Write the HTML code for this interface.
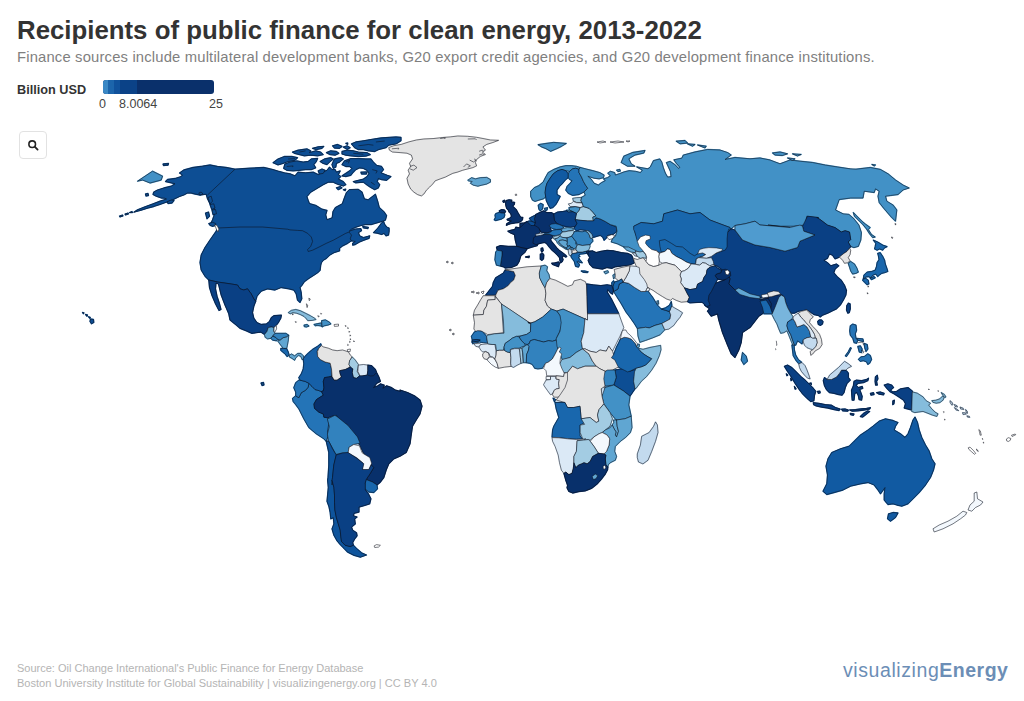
<!DOCTYPE html>
<html lang="en"><head><meta charset="utf-8"><title>Recipients of public finance for clean energy, 2013-2022</title>
<style>
html,body{margin:0;padding:0;background:#fff;}
body{width:1024px;height:701px;position:relative;overflow:hidden;font-family:"Liberation Sans",sans-serif;}
.abs{position:absolute;white-space:nowrap;line-height:1;}
#title{left:17px;top:18px;font-size:25.8px;font-weight:700;color:#333;transform-origin:0 0;}
#sub{left:17px;top:49.7px;font-size:14.8px;letter-spacing:0.17px;color:#7f7f7f;transform-origin:0 0;}
#lt{left:17px;top:83.5px;font-size:12.7px;font-weight:700;color:#333;}
#bar{position:absolute;left:103px;top:80px;width:111px;height:14px;border-radius:3px;overflow:hidden;background:#0a306b;}
#bar i{position:absolute;top:0;height:14px;}
.lab{font-size:12.5px;color:#444;top:98px;}
#search{position:absolute;left:19px;top:131px;width:26px;height:26px;border:1px solid #e2e2e2;border-radius:4px;background:#fff;}
.foot{left:17px;font-size:11px;color:#b4b4b4;transform-origin:0 0;}
#logo{left:843px;top:661.3px;font-size:19.5px;color:#6c8eb6;}
#logo span{letter-spacing:0.58px;}
#logo b{letter-spacing:0.5px;}
#logo b{font-weight:700;}
#map{position:absolute;left:0;top:0;}
</style></head><body>
<div id="title" class="abs">Recipients of public finance for clean energy, 2013-2022</div>
<div id="sub" class="abs">Finance sources include multilateral development banks, G20 export credit agencies, and G20 development finance institutions.</div>
<div id="lt" class="abs">Billion USD</div>
<div id="bar"><i style="left:0;width:5px;background:#3a88c5"></i><i style="left:5px;width:6px;background:#1c65ab"></i><i style="left:11px;width:6px;background:#10529c"></i><i style="left:17px;width:17px;background:#0b4287"></i></div>
<div class="abs lab" style="left:99px">0</div><div class="abs lab" style="left:119px">8.0064</div><div class="abs lab" style="left:209px">25</div>
<div id="search"><svg width="26" height="26" viewBox="0 0 26 26"><circle cx="12.2" cy="12.2" r="3.3" fill="none" stroke="#222" stroke-width="1.6"/><path d="M14.7 14.7L17.6 17.6" stroke="#222" stroke-width="1.8" stroke-linecap="round"/></svg></div>
<svg id="map" width="1024" height="701" viewBox="0 0 1024 701">
<g stroke-width="1.3" stroke-linejoin="round">
<path fill="#0d4e94" stroke="#0d4e94" d="M179.5,173L183.8,170L193,167.5L202.5,166.2L210,165L217.5,166.5L226.2,167.5L235,169.2L250,168.2L263.8,167.5L268,168.4L273,169.6L279.3,171.5L284.3,172.8L290.6,174L295,175.9L298.1,172.2L305.6,172.8L313.2,172.2L318.2,174.7L322,172.8L327,170.3L329.5,167.1L332,169.6L335.1,169.6L336.4,172.2L340.2,170.9L338.3,174.7L340.8,176.5L338.3,179.1L343.3,181.6L345.8,184.7L343.3,186L338.9,184.7L335.8,183.5L333.3,182.2L328.2,182.2L323.2,184.7L316.9,188.5L310.7,192.2L306.9,196.6L308.2,200.4L309.4,203.5L315.7,205.4L322,209.2L327,210.4L325.7,214.8L327,219.8L332.2,217.8L333,211.6L335.4,207.6L342.4,203.7L344,199L346.4,192.7L349.5,189.6L358.1,189.3L362,192L364.4,199L368.3,199.8L375.4,194.3L377.7,201.4L379.3,207.6L384.1,211.9L386.6,215.7L385.4,220.1L382.2,221.3L377.8,222.6L371.6,224.5L365.3,224.5L360.3,225.7L355.3,227.4L351.5,229.1L349,231.4L355.3,229.1L360.9,228.6L361.5,230.7L358.4,232.6L359.6,235.8L363.4,237.6L367.8,236.4L369.7,235.8L369.1,238.3L364,240.2L359.6,242L355.3,244.5L352.7,245.2L352.7,243.3L355.3,241.4L351.5,240.8L347.7,243.3L342.7,245.8L339.6,248.3L339.6,250.8L333.9,252.7L329.5,255.2L326.4,258.4L323.3,260.2L321.4,262.7L320.7,265.3L320.1,270.3L317.6,272.8L313.8,275.3L308.8,278.4L304.4,281.6L301.9,285.3L300,287.5L301.2,292.5L301.8,298.8L300,302.5L297.5,300L296.2,293.8L293.8,290L288.8,288.8L281.2,287.5L275,290L267.5,288.8L261.2,291.2L257,296.2L255.5,301.2L253.8,298.8L251.2,293.8L247.5,288.8L243.8,290L240,288.8L237.5,285L230,283.8L217.5,282L208.8,280L205,276.2L201.2,270L200,262.5L201.2,255L201.2,255L205,247.5L210,240L216.2,231.2L217.5,227.5L215,225L211.2,222.5L212.5,220L213.8,216.2L215,211.2L213.8,207.5L210,203.8L207.5,198.8L206.2,194.2L200,195L195,194L191.2,193L187.5,193L183.8,195L179.5,196.5L172.5,199.8L166.2,202.2L160,204.5L153.8,206.5L147.5,208.2L141.2,210.2L133.8,212.2L137.5,209.8L145,206.8L152.5,204L160,201.2L166.5,199L164.5,198.2L161.2,198L156.2,196.2L153,194.5L153.8,192L157.5,190L163.8,188L171.2,186.2L175,183.8L170,182.5L165.5,181.5L167.5,179.5L175,178.5L181.2,176.5L182.5,175Z"/>
<path fill="#0d4e94" stroke="#0d4e94" d="M273,162.7L278,159L284.3,156.5L291.8,156.5L297.5,157.7L295,160.2L288.1,161.5L283.1,163.4L278,164.9Z"/>
<path fill="#0d4e94" stroke="#0d4e94" d="M283.7,168.4L284.9,164L290,162.1L296.9,160.9L303.1,162.1L308.2,161.5L311.3,159L317.6,158.4L316.3,161.5L313.8,164.6L315.7,167.8L311.3,169.6L305.6,169.6L299.4,170.3L293.1,170.9L286.8,170.3Z"/>
<path fill="#0d4e94" stroke="#0d4e94" d="M292.5,152.1L298.1,150.2L306.9,148.9L310.7,150.8L309.4,152.7L315.7,150.8L320.7,152.1L323.2,154.6L317.6,155.8L310.7,155.2L304.4,155.8L299.4,154.6L294.4,153.3Z"/>
<path fill="#0d4e94" stroke="#0d4e94" d="M312.5,148.3L318.2,146.8L323.8,146.4L322,148.3L316.3,149.6Z"/>
<path fill="#0d4e94" stroke="#0d4e94" d="M326.4,152.7L330.7,150.8L336.4,151.5L338.9,153.3L335.1,155.2L330.1,154.6Z"/>
<path fill="#0d4e94" stroke="#0d4e94" d="M332.6,145.8L337.6,144.5L342,146.4L339.5,148.3L334.5,148.1Z"/>
<path fill="#0d4e94" stroke="#0d4e94" d="M343.3,147.1L347.1,145.8L350.2,147.7L347.1,149.3Z"/>
<path fill="#0d4e94" stroke="#0d4e94" d="M345.8,143.3L347.7,143L347.7,144.3Z"/>
<path fill="#0d4e94" stroke="#0d4e94" d="M342,151.5L347.1,150.2L353.3,150.8L358.4,152.1L367.1,152.7L370.3,154.6L365.9,156.1L358.4,156.5L350.8,155.8L345.8,155.2L342,154Z"/>
<path fill="#0d4e94" stroke="#0d4e94" d="M351.5,143.9L355.8,142L363.4,140.8L372.2,139.3L380.9,138L389.7,137.3L396,137L401,137.3L401,140.8L396,143.9L388.5,145.2L386,147.7L378.4,149.6L374.7,151.5L368.4,150.8L363.4,149.6L358.4,149.6L354.6,147.7Z"/>
<path fill="#0d4e94" stroke="#0d4e94" d="M320.1,161.5L324.5,159L330.7,157.7L333.3,159L329.5,162.1L327,164.6L323.2,163.4Z"/>
<path fill="#0d4e94" stroke="#0d4e94" d="M334.5,159L340.8,157.7L343.3,159L339.5,162.1L336.4,163.4L335.8,167.1L333.3,168.4L332,164.6L333.3,161.5Z"/>
<path fill="#0d4e94" stroke="#0d4e94" d="M318.2,170.9L322,169L325.1,170.3L323.2,173.4L319.5,174Z"/>
<path fill="#0d4e94" stroke="#0d4e94" d="M342,164.6L344.5,160.9L350.8,158.6L358.4,158.6L365.9,159L370.9,159L373.4,162.1L376.5,165.3L381.6,166.5L383.5,169.6L380.9,172.8L387.2,175.3L391,176.5L386.6,180.3L381.6,179.7L378.4,178.4L377.2,181.6L379.7,184.7L378.4,187.8L374.7,189.7L370.3,187.2L365.9,184.1L363.4,182.2L355.8,182.8L353.3,181.6L358.4,180.3L363.4,179.1L367.1,176.5L369,173.4L367.1,170.3L363.4,168.4L359.6,167.8L355.8,169.6L353.3,172.2L350.8,175.3L345.8,176.5L342,175.9L345.8,173.4L349.6,170.9L352.1,168.4L349.6,166.5L345.8,166.5Z"/>
<path fill="#0d4e94" stroke="#0d4e94" d="M360.9,172.2L367.1,171.9L366.5,174L361.5,174Z"/>
<path fill="#0d4e94" stroke="#0d4e94" d="M336.4,187.8L340.2,186.6L342,187.8L338.3,189.7Z"/>
<path fill="#0d4e94" stroke="#0d4e94" d="M343.3,189.7L345.8,189.1L345.2,190.7Z"/>
<path fill="#0d4e94" stroke="#0d4e94" d="M119.5,216L122.5,215L123,216L120,217Z"/>
<path fill="#0d4e94" stroke="#0d4e94" d="M125,214L128,213L128.5,214L125.5,215Z"/>
<path fill="#0d4e94" stroke="#0d4e94" d="M129.5,212.5L132,211.5L132.5,212.5Z"/>
<path fill="#0d4e94" stroke="#0d4e94" d="M90.5,319L93.5,319.5L93.8,322.5L91.5,323.8L90,321.5Z"/>
<path fill="#0d4e94" stroke="#0d4e94" d="M82.5,312.5L84,312.8L83.5,313.8Z"/>
<path fill="#0d4e94" stroke="#0d4e94" d="M85.5,314.5L87.5,315L87,316.3Z"/>
<path fill="#0d4e94" stroke="#0d4e94" d="M88.5,316.8L90.3,317.3L89.8,318.3Z"/>
<path fill="#0d4e94" stroke="#0d4e94" d="M163,164L168.5,163.5L168,165.2L163.5,165.5Z"/>
<path fill="#0d4e94" stroke="#0d4e94" d="M145.5,194L148,193.5L148.5,195.5L146,196Z"/>
<path fill="#0d4e94" stroke="#0d4e94" d="M167,202L171,200L174,200.5L172,203L168,203.5Z"/>
<path fill="#0d4e94" stroke="#0d4e94" d="M261,383L263.5,382.5L264,385L262,385.5Z"/>
<path fill="#0d4e94" stroke="#0d4e94" d="M373.5,232.6L377.8,228.2L381,223.8L383.5,221.3L384.7,224.5L386.6,227L389.1,228.2L389.1,231.4L388.5,235.1L386,235.8L384.1,233.3L381.6,234.5L377.8,233.3Z"/>
<path fill="#0d4e94" stroke="#0d4e94" d="M362.8,226.4L368.4,227.4L367.8,228.6L363.4,227.9Z"/>
<path fill="#0d4e94" stroke="#0d4e94" d="M208,197.5L211.2,196.2L212.5,201.2L210,203.8Z"/>
<path fill="#0d4e94" stroke="#0d4e94" d="M210,204.5L213.8,203.8L215,208L211.8,209.5Z"/>
<path fill="#0d4e94" stroke="#0d4e94" d="M212,210L215.5,209.5L216.5,213.8L213,214.5Z"/>
<path fill="#0d4e94" stroke="#0d4e94" d="M205.5,213L208.5,212L209.5,216.2L207,218.8Z"/>
<path fill="#0d4e94" stroke="#0d4e94" d="M198.8,193L201.2,192L203,194L200,195Z"/>
<path fill="#0d4e94" stroke="#0d4e94" d="M208.8,223.5L212.6,222.3L215.7,223.5L215.1,225.6L212.6,226.3L210.1,225.3Z"/>
<path fill="#4291c6" stroke="#4291c6" d="M137.5,181.2L152.5,171.2L162.5,176.2L161.2,180L150,183L142.5,180Z"/>
<path fill="#e4e4e4" stroke="#e4e4e4" d="M388.8,147.6L393.8,145.7L401.3,144.4L408.9,141.9L416.4,140L423.9,139L434,138.5L442.7,137.5L450.3,136.9L457.8,136L467.8,136.3L476.6,137.3L482.9,138.5L490.4,140L498.6,140.3L492.9,142.5L486.7,144.4L482.9,146.9L485.4,150.1L482.3,152L485.4,154.5L480.4,156.4L476.6,159.5L475.4,162.6L476.6,165.8L472.9,167.6L467.8,168.9L462.8,170.2L457.8,172L452.8,173.3L449,175.2L445.3,177.1L440.2,178.9L435.2,180.8L432.7,184L429.6,187.1L426.4,190.2L423.9,194L421.4,195.9L417.6,194.6L413.9,192.1L410.7,189L408.2,184L407,178.3L409.5,173.9L408.2,170.2L410.7,166.4L409.5,163.3L412.6,158.9L411.4,155.1L407,153.2L400.1,152.6L392.5,152L389.4,150.1Z"/>
<path fill="#60a6d2" stroke="#60a6d2" d="M467.8,180.2L471.6,177.7L475.4,178.9L480.4,177.7L486.7,177.4L490.4,179.6L490.4,182.1L486.7,184L481.6,185.2L477.9,186.2L473.5,185.2L470.4,183.3L472.2,181.5L468.5,180.8Z"/>
<path fill="#0a4084" stroke="#0a4084" d="M208.8,280L217.5,282L230,283.8L237.5,285L240,288.8L243.8,290L247.5,288.8L251.2,293.8L253.8,298.8L255.5,301.2L255.7,301.3L253.8,306.3L252.5,312.6L253.8,318.2L256.9,322.6L261.3,324.5L266.4,323.9L269.5,321.4L271.4,317.6L273.9,315.7L281.4,315.1L280.8,318.2L278.3,322.6L276.4,325.1L273.9,327.6L271.4,327L268.2,327.6L267,331.4L264.5,334.5L260.7,332L256.3,332.7L251.9,333.3L246.3,330.8L240,328.3L236.2,325L230,320L228.8,313.8L225,305L221.2,295L218.5,284L216,283L215.5,288.8L217,296.2L219.5,303.8L221,309.5L219,310.5L215.5,303.8L212,295.5L209.5,287.5Z"/>
<path fill="#60a6d2" stroke="#60a6d2" d="M264.5,334.5L267,331.4L268.2,327.6L271.4,327L273.9,327.6L273.6,331.4L275.1,333.3L272.9,335.8L270.7,338.3L267.6,338.9L265.1,337.1Z"/>
<path fill="#f3f8fd" stroke="#f3f8fd" d="M274.1,327.6L276.4,325.4L276.6,328.9L274.9,332L273.9,331.4Z"/>
<path fill="#3282be" stroke="#3282be" d="M270.7,338.3L272.9,336.2L275.8,337.4L277.6,339.2L276.4,340.8L272.9,340.2Z"/>
<path fill="#3282be" stroke="#3282be" d="M272.9,335.8L275.1,333.3L280.2,333.3L285.8,333.3L288.7,335.2L286.4,337.1L283.3,337.7L280.2,340.2L277.6,339.2L275.8,337.4Z"/>
<path fill="#60a6d2" stroke="#60a6d2" d="M277.6,340.8L280.2,340.2L283.3,337.7L286.4,337.1L288.7,335.4L288.3,340.2L287.4,345.2L286.7,348.4L283.3,348.4L280.8,345.2Z"/>
<path fill="#1967ad" stroke="#1967ad" d="M280.8,348.4L283.3,348.4L286.7,348.7L288.3,352.1L289.2,355.3L287.1,356.5L285.2,354L282.7,352.1L280.8,350.2Z"/>
<path fill="#60a6d2" stroke="#60a6d2" d="M289.2,355.3L291.5,354L294.6,355.9L297.7,353.4L300.9,353.4L303.4,355.9L304,359L302.1,359.6L300.9,356.5L298.4,355.3L295.8,357.8L294.6,360.3L292.1,358.4L289.6,357.1Z"/>
<path fill="#85bcdc" stroke="#85bcdc" d="M288.3,312.6L291.5,310.3L295.8,309.5L300.2,310.7L305.3,313.2L310.3,315.7L314.7,318.2L315.9,319.5L312.2,320.4L307.8,320.7L306.5,318.9L304,316.4L300.2,314.5L296.5,313.2L292.7,312.6L290.2,313.8Z"/>
<path fill="#4291c6" stroke="#4291c6" d="M304,325.1L307.1,324.5L309,326.1L306.5,327L304.3,326.6Z"/>
<path fill="#4291c6" stroke="#4291c6" d="M314,324.5L317.8,323.6L321.6,322.9L322.2,326.4L320.3,325.8L317.2,325.4L315.3,325.8Z"/>
<path fill="#4291c6" stroke="#4291c6" d="M321.6,320.7L325.3,319.9L329.1,322L331,323.9L327.8,325.1L324.1,325.8L322.2,327L321.8,323.3Z"/>
<path fill="#2474b7" stroke="#2474b7" d="M292.5,398.4L295.7,395.8L298.8,397.7L301.3,392.7L305.7,390.2L308.2,387.1L308.9,383.3L312,386.4L315.1,389.6L317.6,390.2L321.4,391.5L323.3,395.2L320.2,397.1L316.4,399.6L313.9,404L314.5,408.4L318.9,412.2L323.3,414L323.9,417.2L327.7,417.8L328.8,423.8L327.5,431.2L328,436.2L326.2,441.2L323.8,438.8L316.2,433.8L308.8,427.5L303.8,418.8L298.8,408.8L295.7,404.6L293.2,401.5Z"/>
<path fill="#2474b7" stroke="#2474b7" d="M293.8,387.7L295.7,382.7L298.8,380.2L300.1,380.2L305.1,381.4L308.9,383.3L308.2,387.1L305.7,390.2L301.3,392.7L298.8,397.7L295.7,395.8L295.7,392.1Z"/>
<path fill="#1660a8" stroke="#1660a8" d="M303.2,358.8L305.1,356.3L308.9,352.5L312.6,349.4L317.6,346.3L320.8,343.8L321.4,345.6L318.9,348.2L317,351.3L317.6,356.3L320.2,359.5L325.2,362L330.2,363.2L331.5,368.9L331.5,376.4L328.3,377L324.5,377.6L323.3,381.4L323.9,387.7L323.3,390.8L321.4,391.5L317.6,390.2L315.1,389.6L312,386.4L308.9,383.3L305.1,381.4L300.1,380.2L298.8,377.6L301.3,373.9L303.2,368.9L303.8,363.8Z"/>
<path fill="#e4e4e4" stroke="#e4e4e4" d="M317.6,351.3L318.9,348.2L321.4,345.6L323.3,346.9L328.3,348.2L332.7,350L337.1,350.7L342.7,350L348.4,351.9L350.3,355.1L352.2,356.9L349.6,360.7L349,364.5L350.3,367L345.3,369.5L339.6,370.7L340.2,373.9L341.5,377L337.1,380.2L334,380.2L332.1,376.4L331.5,368.9L330.2,363.2L325.2,362L320.2,359.5L317.6,356.3Z"/>
<path fill="#a3cce3" stroke="#a3cce3" d="M352.2,356.9L355.3,360.1L358.4,364.5L357.8,368.2L357.2,371.4L359.7,375.8L356.5,378.3L353.4,377.6L352.2,372.6L352.8,368.9L350.3,367L349,364.5L349.6,360.7Z"/>
<path fill="#dbe9f6" stroke="#dbe9f6" d="M358.4,365.1L363.5,364.5L367.8,365.1L367.8,370.7L367.2,375.1L362.8,375.8L360.3,376.4L357.8,371.4L358.1,368.2Z"/>
<path fill="#08306b" stroke="#08306b" d="M323.3,381.4L324.5,377.6L328.3,377L331.5,376.4L334,380.2L337.1,380.2L341.5,377L340.2,373.9L339.6,370.7L345.3,369.5L350.3,367L352.8,368.9L352.2,372.6L353.4,377.6L356.5,378.3L359.7,375.8L362.8,375.8L367.2,375.1L367.8,370.7L367.8,365.1L371.6,365.7L375.4,369.5L376.6,372.6L379.1,377.6L380.4,381.4L376.6,383.3L373.5,387.7L377.9,385.8L380.4,383.9L384.2,385.2L382.9,388.3L386.7,385.8L391.7,387.7L395.5,390.2L400.5,391.5L400,390L407.5,392.5L415,396.2L420,400L422,406.2L420,413.8L416.2,420L412.5,426.2L411.2,435L410,443.8L406.2,452.5L400,456.2L393.8,458.8L388.8,463.8L386.2,470L383.8,477.5L380,482.5L377,485L372.5,482L366.2,479.5L370,473.8L373.8,467.5L371.2,465L370,460L365,456.2L360,446.2L356.2,437.5L350,431.2L347.8,425.3L342.7,421.6L338.4,418.4L336.5,415.3L332.7,415.9L327.7,417.8L323.9,417.2L323.3,414L318.9,412.2L314.5,408.4L313.9,404L316.4,399.6L320.2,397.1L323.3,395.2L321.4,391.5L323.3,390.8L323.9,387.7Z"/>
<path fill="#3282be" stroke="#3282be" d="M327.4,419.1L334.9,415.3L337.8,417.2L348.1,425.6L352.8,431.3L357.5,436.9L360,443.2L353.8,444.5L349.1,447.3L348.1,452.9L342.5,452.9L335.9,454.4L332.1,447.3L328.4,440.7L327.4,434.1L329.3,426.6Z"/>
<path fill="#f3f8fd" stroke="#f3f8fd" d="M349.1,447.3L353.8,444.5L359.4,445.8L362.2,452.9L369.8,457.6L371.6,463.3L368.8,469.9L362.2,469.9L363.2,463.3L356.6,457.6L350,453.9L348.1,452.9Z"/>
<path fill="#1967ad" stroke="#1967ad" d="M366.2,479.5L372.5,482L377,485L377.5,488.8L373.8,492.5L368.8,492L365,488.8L365,483.8Z"/>
<path fill="#0e549c" stroke="#0e549c" d="M326.2,441.2L328.8,441.2L332.5,448.8L336.2,455L333.8,465L332.5,477.5L332,485L332,480L333.9,487.5L334.5,495.1L334.5,502.6L334.9,510.1L336.4,517.6L338.3,523.9L340.2,530.2L340.8,536.5L341.5,541.5L345.2,545.3L350.2,546.5L353.4,545.3L356.5,548.4L361.5,552.8L366.5,555L360.3,557.2L354,555.3L347.7,552.2L344,548.4L340.2,544.6L337.1,540.9L333.9,535.2L332,528.9L333.9,523.9L333.3,517.6L330.8,518.9L330.2,512.6L328.9,506.4L327,501.3L327.6,495.1L328.3,487.5L327.6,480L328,477.5L328.8,465L328.8,452.5Z"/>
<path fill="#0a4084" stroke="#0a4084" d="M336.2,455L342.5,453L348,452.5L350,453.8L357.5,458.8L363.8,463.8L362.5,469.5L368.8,469.5L371.2,465L373.8,467.5L370,473.8L366.2,479.5L365,483.8L365.3,483.8L365.3,490L368.4,493.8L370.9,498.8L369.7,503.8L364,505.7L359,507L359,512L354,513.3L353.4,515.8L357.1,517L354.6,518.9L355.3,523.9L351.5,527.1L352.7,530.2L356.5,532.7L357.1,535.8L354.6,539L352.7,542.7L353.4,545.3L350.2,546.5L345.2,545.3L341.5,541.5L340.8,536.5L340.2,530.2L338.3,523.9L336.4,517.6L334.9,510.1L334.5,502.6L334.5,495.1L333.9,487.5L332,480L332.5,477.5L333.8,465Z"/>
<path fill="#4291c6" stroke="#4291c6" d="M538,144.7L545.9,143.5L553.7,142.4L566.3,143.5L561.6,146.3L556.9,148.6L550.6,151.3L545.9,148.6L542,147.1Z"/>
<path fill="#4291c6" stroke="#4291c6" d="M532.5,200.2L530.7,196.4L530.7,191.4L534.4,187.6L538.8,185.7L543.2,182L545.7,177L548.2,172.6L553.9,169.4L560.2,166.9L565.8,165.7L571.5,165.7L576.5,166.3L580.2,167.5L579,169.4L575.8,168.2L572.7,168.8L569.6,171.3L565.8,170.7L562,169.4L557.6,170.7L553.3,173.8L550.1,178.2L547,183.2L545.7,187.6L545.1,192.6L545.7,197L543.2,198.9L538.8,200.2L535.1,201.4Z"/>
<path fill="#115aa2" stroke="#115aa2" d="M545.7,197L545.1,192.6L545.7,187.6L547,183.2L550.1,178.2L553.3,173.8L557.6,170.7L562,169.4L565.8,170.7L568.3,173.8L568.3,177.6L565.2,180.1L562.7,183.2L559.5,186.4L557,190.1L557,194.5L560.2,196.4L558.3,200.2L555.8,204.6L552.6,207.7L550.1,208.3L548.2,204.6L546.4,200.8Z"/>
<path fill="#2474b7" stroke="#2474b7" d="M568.3,173.8L569.6,171.3L572.7,168.8L575.8,168.2L579,169.4L579,172.6L581.5,177L583.4,181.4L585.9,185.7L587.8,188.3L584,192L579,194.5L572.7,195.4L568.3,193.3L565.8,190.1L567.1,186.4L570.2,183.2L572.1,180.7L569.6,179.5L568.3,177.6Z"/>
<path fill="#a3cce3" stroke="#a3cce3" d="M572.7,198.3L576.5,197.7L581.5,197.4L580.9,200.8L582.1,202.7L576.5,202.4L573.3,200.8Z"/>
<path fill="#dbe9f6" stroke="#dbe9f6" d="M568.3,203.9L571.5,203.3L573.3,201.4L576.5,202.7L582.1,202.9L583.4,206.5L580.2,207.5L575.2,206.5L570.2,206.5Z"/>
<path fill="#4291c6" stroke="#4291c6" d="M568.9,207.7L575.2,206.7L580.2,207.7L579,210.8L576.5,213.4L572.7,211.5L569.6,210.2Z"/>
<path fill="#4291c6" stroke="#4291c6" d="M566.4,210.2L569.6,210.2L572.7,211.7L568.3,212.1Z"/>
<path fill="#a3cce3" stroke="#a3cce3" d="M576.5,213.4L579,210.8L580.2,207.7L583.4,206.7L589,208.3L592.8,212.1L595.9,215.9L592.8,217.1L593.4,220.9L587.8,220.9L580.2,220.3L575.2,219.6L575.8,216.5Z"/>
<path fill="#08306b" stroke="#08306b" d="M520,223.4L525,222.8L526.3,222.1L530,225.9L533.8,227.2L538.8,229L537.6,233.4L535.7,237.2L536.9,242.8L520,242.8Z"/>
<path fill="#08306b" stroke="#08306b" d="M534.4,218.4L535.7,214.6L540.7,212.1L543.8,210.8L547,212.7L551.4,212.7L553.9,214L554.5,220.3L557,223.4L553.3,225.3L550.1,228.4L552,231.5L547,232.8L541.3,232.2L538.8,229L533.8,227.2L535.1,222.8Z"/>
<path fill="#0a4084" stroke="#0a4084" d="M553.9,214L557.6,212.1L563.3,211.5L566.4,210.8L568.3,212.1L572.7,211.7L576.5,213.4L575.8,216.5L575.2,219.6L577.1,223.4L575.2,226.5L570.2,227.2L565.8,226.5L561.4,225.3L557,223.4L554.5,220.3Z"/>
<path fill="#2474b7" stroke="#2474b7" d="M538.2,205.2L540.7,203.3L543.2,204.6L542.6,209L540.1,210.8L538.8,209Z"/>
<path fill="#2474b7" stroke="#2474b7" d="M544.5,208.3L547.6,207.7L547,210.2L545.1,210.5Z"/>
<path fill="#0d4e94" stroke="#0d4e94" d="M529.4,218.4L532.5,216.5L535.7,215L534.4,218.4L535.1,222.8L531.9,221.5Z"/>
<path fill="#0d4e94" stroke="#0d4e94" d="M526.3,222.1L529.4,220.9L531.9,221.5L535.1,222.8L533.8,226.5L530,225.9Z"/>
<path fill="#0d4e94" stroke="#0d4e94" d="M575.2,226.5L577.1,223.4L575.2,219.6L580.2,220.3L587.8,220.9L593.4,220.9L595.9,217.7L600.3,219L605.3,221.5L610.4,224.6L616.6,227.2L616.6,231.5L613.5,234.1L607.8,235.3L606.6,237.8L604.1,240.3L602.8,237.2L600.3,235.3L595.9,236.6L592.2,237.8L590.9,235.3L589.6,231.5L585.3,230.3L580.2,229.7L576.5,230.9L574,228.4Z"/>
<path fill="#08306b" stroke="#08306b" d="M506,200.6L509.1,199.8L511.8,200.2L511.1,201.8L514.6,202.5L514.2,204.5L512.6,206.1L514.2,207.6L516.2,209.6L517.7,212.4L519.3,215.1L520.5,217.1L522.8,217.5L522.4,219.8L520.9,221.4L518.5,222.5L515.4,222.9L513,223.3L510.7,223.7L508.3,224.5L506.4,225.3L506.7,223.7L509.1,222.2L511.5,221L507.5,220.2L507.1,219.4L509.9,218.2L511.5,216.3L510.7,213.5L509.1,212L508.3,210L506.7,208.4L506,206.1L505.6,203.7Z"/>
<path fill="#08306b" stroke="#08306b" d="M499.3,210.8L501.6,209.6L504.4,210L505.6,211.6L504.4,213.1L501.6,213.1L499.7,212.4Z"/>
<path fill="#1967ad" stroke="#1967ad" d="M495.8,213.5L499.3,212.4L501.6,213.1L504.4,213.1L504.8,215.1L504,217.5L501.6,219L498.5,219.8L495.8,220.6L494.2,219.8L495.4,217.5L495,215.1Z"/>
<path fill="#08306b" stroke="#08306b" d="M502.8,201L504.5,200.2L504.8,201.8L503.5,202.4Z"/>
<path fill="#08306b" stroke="#08306b" d="M507.9,231.2L511.4,230.2L514.8,229.4L515.8,227.2L519.5,227.9L521.6,226.3L524.2,223.6L527.1,221.6L531,225.5L534.9,225.5L538.8,227.9L540.4,231.8L538,234.1L536.5,237.7L538.4,241.7L537.3,245.6L531.8,247.2L527.1,248.7L522.4,247.9L516.9,246.4L515.3,240.1L514.5,234.6L510.6,233Z"/>
<path fill="#08306b" stroke="#08306b" d="M496.5,247.2L500.4,245.6L508.2,246.4L516.9,246.4L522.4,247.9L527.1,248.7L524.7,252.6L520.8,255.8L519.2,261.3L516.9,265.2L511.4,267.5L505.1,268L503.5,266.8L500.4,266L501.2,260.5L502,255L502,251.1L497.3,250.3Z"/>
<path fill="#3282be" stroke="#3282be" d="M495.7,251.9L497.3,250.3L502,251.1L502,255L501.2,260.5L500.4,266L496.5,265.2L494.9,259.7Z"/>
<path fill="#08306b" stroke="#08306b" d="M525.5,257L529.4,256.1L528.9,257.7Z"/>
<path fill="#c3daee" stroke="#c3daee" d="M535.7,234.1L540.4,233.4L543.5,234.1L542.7,237.3L538.8,238.1L536.2,237.3Z"/>
<path fill="#08306b" stroke="#08306b" d="M536,236.1L540.7,235.3L544.6,234.5L550.1,234.5L552.9,235.5L552.9,237.3L551.7,238.1L550.5,239.6L551.3,241.2L552.9,243.2L554.8,245.5L556.8,247.9L559.1,250.2L561.9,252.2L565.4,254.9L566.7,256.5L565.8,257.1L563.1,255.7L562.3,257.7L563.1,259.6L562.3,261.6L560.7,262.8L559.9,260.4L559.5,257.7L557.2,254.9L554.8,252.6L552.1,250.2L549.3,247.1L547,244L545,242.4L542.3,242.8L539.1,243.6L536,244.7L532.9,243.2L533.6,237.7Z"/>
<path fill="#08306b" stroke="#08306b" d="M551.7,263.2L555.2,262.8L558.7,262L559.5,263.2L558.4,266.7L555.2,265.5L552.5,264.4Z"/>
<path fill="#08306b" stroke="#08306b" d="M540.3,254.2L542.7,253.4L543.8,254.9L543.5,258.9L541.9,260.4L540.3,259.3Z"/>
<path fill="#08306b" stroke="#08306b" d="M541.1,248.3L542.7,247.9L543.2,250.6L541.9,252.2L541.1,250.6Z"/>
<path fill="#2474b7" stroke="#2474b7" d="M549.3,225.5L551.7,224L555.6,223.6L559.5,224.7L563.1,226.3L563.5,227.9L560.3,229.1L556.4,229.5L552.9,228.7L550.5,227.5Z"/>
<path fill="#60a6d2" stroke="#60a6d2" d="M561.1,229.8L563.5,228.3L567.4,227.6L571.3,227.9L573.6,228.7L572.9,230.2L568.9,230.8L565,231.8L562.3,231.8Z"/>
<path fill="#2474b7" stroke="#2474b7" d="M551.3,231.4L552.9,230.2L556.4,229.7L560.3,229.5L561.1,229.8L562.3,231.8L561.1,233.8L558.7,234.9L555.6,235.7L552.9,235.5L550.1,234.5L544.6,234.5L544.2,233.8L549.3,233Z"/>
<path fill="#a3cce3" stroke="#a3cce3" d="M559.9,234.9L561.1,233.8L562.3,232L565,231.8L568.9,231L572.9,230.5L574.4,231.4L573.3,233.8L571.7,236.1L568.9,237.3L565,237.7L561.9,237.3L560.3,236.1Z"/>
<path fill="#a3cce3" stroke="#a3cce3" d="M552.9,237.3L555.6,236.1L558.7,235.3L559.5,236.5L557.6,238.1L554.8,238.9L553.3,238.6Z"/>
<path fill="#60a6d2" stroke="#60a6d2" d="M554.8,238.9L557.6,238.1L559.5,236.5L560.3,236.1L561.9,237.3L565,237.7L567,238.1L567.4,240.4L566.2,240.8L562.7,240L559.5,240.4L558.7,242L560.3,244L563.1,246.3L566.2,248.3L567.4,249.5L565.8,249.1L562.7,247.1L559.5,245.1L557.2,242.8L556.5,240.8L555.5,240.2Z"/>
<path fill="#60a6d2" stroke="#60a6d2" d="M559.5,240.4L562.7,240L566.2,240.8L567.4,242.4L567,244.4L567.8,246.3L566.2,247.9L563.1,246.3L560.3,244L558.7,242Z"/>
<path fill="#4291c6" stroke="#4291c6" d="M567,238.1L568.9,237.3L571.7,236.3L572.9,237.7L574.4,239.6L576,241.6L575.6,243.6L576.8,245.5L576,247.9L573.6,249.1L572.9,247.9L570.9,247.1L569.7,245.5L567.8,246.3L567,244.4L567.4,242.4L567.4,240.4Z"/>
<path fill="#4291c6" stroke="#4291c6" d="M566.2,248.3L567.8,246.5L569.7,245.7L570.5,247.1L569.3,249.1L568,249.6Z"/>
<path fill="#4291c6" stroke="#4291c6" d="M570.9,247.3L572.9,247.9L573.5,249.1L572.5,250.1L570.9,249.5Z"/>
<path fill="#c3daee" stroke="#c3daee" d="M568.2,249.6L569.3,249.1L570.9,249.6L571.7,251.4L572.1,253.8L570.9,255.7L569.3,255.3L568.5,253Z"/>
<path fill="#e4e4e4" stroke="#e4e4e4" d="M572.1,251.4L573.6,250.1L576,249.8L577.2,251.2L576.4,253L573.6,253.4L572.1,253.4Z"/>
<path fill="#3282be" stroke="#3282be" d="M571.7,236.1L573.3,233.8L574.4,231.6L577.6,231.4L582.3,231.8L585.4,231L587.8,232.6L589.3,234.9L590.1,237.7L592.5,238.9L592.9,241.2L590.9,243.2L590.1,244.7L586.2,245.1L582.3,245.5L578.7,244.7L576.8,244L576,241.6L574.4,239.6L572.9,237.7Z"/>
<path fill="#85bcdc" stroke="#85bcdc" d="M585.4,231L587.8,230.6L590.1,232.2L592.1,234.5L592.9,236.9L591.7,238.5L590.1,237.7L589.3,234.9L587.8,232.6Z"/>
<path fill="#85bcdc" stroke="#85bcdc" d="M576.8,245.5L578.7,244.7L582.3,245.5L586.2,245.1L589.7,244.7L590.1,246.3L589.3,248.7L588.2,250.6L585.4,251.4L582.3,252.2L578.7,252.2L577.2,251.2L576,249.8L576.2,247.9Z"/>
<path fill="#1967ad" stroke="#1967ad" d="M570.9,255.9L572.1,253.8L573.6,253.5L576.4,253.1L578.7,252.4L582.3,252.4L585.4,251.6L587,252.2L586.2,253.4L583.1,253.8L579.9,254.2L578.7,255.3L579.9,256.5L578.4,257.3L579.5,259.3L581.1,261.2L582.3,262.8L579.9,262.4L578,260.8L576.8,262L578.7,263.2L579.5,265.1L578.4,267.1L575.6,266.3L574.8,263.6L574.4,261.6L572.5,258.9L571.3,257.3Z"/>
<path fill="#1967ad" stroke="#1967ad" d="M581.1,271L584.6,271L588.2,271.8L587.4,272.6L583.5,272.4Z"/>
<path fill="#08346f" stroke="#08346f" d="M586.2,251.4L588.2,250.9L590.9,251.4L592.5,252.7L590.1,253.4L588.2,254.3L587,253.4Z"/>
<path fill="#08346f" stroke="#08346f" d="M588.2,251.9L592.2,250.8L596.1,252.6L600.8,251.4L607.1,250.3L613.3,250.8L621.2,252.6L627.5,253.4L631.4,255L632.9,258.1L634.5,262.8L629,265.2L621.2,266L614.9,266.8L611.8,268.3L607.1,267.5L602.4,269.1L597.6,268.3L592.9,267.5L589.8,264.4L588.2,260.5L589.8,257.4L588.2,255Z"/>
<path fill="#60a6d2" stroke="#60a6d2" d="M603.9,271.8L607.8,270.7L608.6,272.3L605.5,273.8Z"/>
<path fill="#4291c6" stroke="#4291c6" d="M579,169.4L580.2,167.5L585.3,168.8L592.8,170.7L599.7,172.6L604.1,175.1L603.5,177.6L599.1,178.8L594,178.2L590.3,177L587.8,176.3L591.5,179.5L594,183.2L598.4,185.1L601.6,182.6L605.3,180.7L603.5,178.8L607.8,177.6L610.4,175.7L607.8,173.2L610.4,171.3L614.7,172.6L615.4,175.1L619.1,173.8L624.2,171.9L629.2,170.7L635.5,171.3L640.5,172.6L642.4,170.1L636.7,166.9L648,168.8L650.4,166.9L653.5,160.6L659.8,159L661.8,162.2L663.3,167.6L665.3,173.1L667.6,177.1L671.1,176.7L670.5,171.6L668.4,166.9L666.4,162.6L670,161.4L674.7,164.5L678.6,168.4L679.9,167.3L676.3,163.3L673.9,159.8L681.8,158.2L683.3,155.1L695,152L707.5,149.5L720,150L727.5,152.5L731.2,155L725,159.5L735,157.5L750,158.8L760,158L770,160L780,163.8L790,160L800,161.2L812.5,162.5L825,165L837.5,167L850,168.8L856,169.2L870.5,167.5L880.5,169.5L888,173.8L895.5,180L903,185L909.2,188L903,190L898,194.5L890.5,195.5L885.5,196.2L886.8,201.2L893,205L896.8,210L895.5,221.2L890.5,216.2L884.2,208.8L879.2,202.5L878,196.2L879.2,191.2L875.5,188.8L874.2,192.5L864.2,191.2L863,198L850.5,198L839.2,199.5L835.5,210L843,213.8L848.9,214.4L853.9,218.8L858.9,225.1L861.4,232.6L860.8,240.1L858.3,246.4L853.9,247.6L850.7,246.4L848.2,242L850.7,239.5L849.5,232L845.1,230.7L841.3,232L835.1,227.6L827.5,225.1L820,219.4L816.8,217.5L806.8,216.2L805,225L793,226.2L780.5,226.2L768,225L790,227.5L775,226.2L760,225L755,221.2L745,223.8L735,225.5L731.2,228.8L730,227.5L720,223.8L710,220L700,212.5L690,213.8L677.5,210L663.8,213.8L662.5,221.2L653.8,223.8L641.2,222.5L633.8,226.2L635,232.5L637.5,238.8L640,242.5L643.8,247.5L646.2,255L640,252.5L631.2,250L625,247.5L617.5,243.8L611.2,242L612.5,238.8L615.5,236.2L617,231.2L616.2,226.2L610.4,224.6L605.3,221.5L600.3,219L595.9,217.7L593.4,220.9L592.8,217.1L595.9,215.9L592.8,212.1L589,208.3L583.4,206.5L582.1,202.7L580.9,200.8L581.5,197.4L585.3,195.2L584,192L587.8,188.3L585.9,185.7L583.4,181.4L581.5,177L579,172.6Z"/>
<path fill="#0a4084" stroke="#0a4084" d="M731.2,228.8L735,230L742.5,240L755,245L770,247.5L785,251.2L797.5,247.5L800,241.2L815,235L803.8,231.2L802.5,226.2L807.5,216.2L818.8,217.5L816.8,217.5L820,219.4L827.5,225.1L835.1,227.6L841.3,232L845.1,230.7L849.5,232L850.7,239.5L848.2,242L850.7,246.4L849.5,248.3L847,251.4L843.2,253.9L839.5,257.1L835.1,258.9L832.5,255.2L829.4,253.9L827.5,258.3L823.8,260.2L827.5,262.7L830.7,265.8L836.3,264L838.8,265.8L835.1,269L833.8,272.7L836.9,276.5L841.3,280.3L844.5,285.3L846.4,290.3L846.5,290L845.9,295L843.4,300L840.3,305.1L836.5,308.8L832.7,310.7L827.7,313.2L822.7,315.1L820.2,317L818.9,315.7L813.9,314.5L810.2,312L806.4,309.5L802.6,310.7L798.2,311.3L794.5,313.2L790.7,313.2L787.6,307.6L785.7,302.5L784.4,296.9L781.3,295L775,297.5L765,298.8L760,297.5L750,296.2L735,290L728.8,283.8L730,278.8L727.5,273.8L722.5,270L717.5,266.2L713.8,265L711.2,260L707.5,256.2L715,253.8L722.5,250L720,247.5L723.8,241.2L725,235Z"/>
<path fill="#4f9bcf" stroke="#4f9bcf" d="M735,225.5L745,223.8L755,221.2L760,225L775,226.2L790,227.5L800,225L802.5,226.2L803.8,231.2L815,235L800,241.2L797.5,247.5L785,251.2L770,247.5L755,245L742.5,240L735,230Z"/>
<path fill="#4291c6" stroke="#4291c6" d="M621.2,162.5L623.8,156.2L632.5,152.5L645,150.5L643.8,153L635,155L628.8,158.8L631.2,163.8L635,166.2L627.5,166.2Z"/>
<path fill="#4291c6" stroke="#4291c6" d="M616.6,170.1L619.8,169.4L620.4,171.1L617.9,171.6Z"/>
<path fill="#4291c6" stroke="#4291c6" d="M676.2,141.2L685,140.5L687.5,143L680,143.8Z"/>
<path fill="#4291c6" stroke="#4291c6" d="M687.5,143.8L695,144.5L692.5,146.2Z"/>
<path fill="#4291c6" stroke="#4291c6" d="M697.5,145L706.2,146.2L705,148Z"/>
<path fill="#4291c6" stroke="#4291c6" d="M772.5,153L780,152L787.5,153.8L782.5,155.5L775,155Z"/>
<path fill="#4291c6" stroke="#4291c6" d="M792.5,153.8L801.2,154.5L797.5,156Z"/>
<path fill="#4291c6" stroke="#4291c6" d="M787.5,158L795,158.8L792.5,160.5Z"/>
<path fill="#4291c6" stroke="#4291c6" d="M871.8,164.5L875.5,165L874.2,166Z"/>
<path fill="#1967ad" stroke="#1967ad" d="M633.8,226.2L641.2,222.5L653.8,223.8L662.5,221.2L663.8,213.8L677.5,210L690,213.8L700,212.5L710,220L720,223.8L730,227.5L731.2,230L728.9,228.8L727.7,232.5L727.1,238.8L727.1,247L725.2,250.1L716.4,252.9L703.8,257.6L696.3,261.4L686.3,262.7L676.2,257L670,250.1L661.2,252.6L653.6,251.4L647.4,247.6L637.3,241.3L634.8,231.9L633.6,229.4Z"/>
<path fill="#1967ad" stroke="#1967ad" d="M659.3,240.7L664.9,239.5L671.2,243.2L676.2,246.4L682.5,247L686.3,250.1L690,253.3L694.4,255.8L697.6,253.9L702.6,252.9L705.7,254.5L702.6,256.4L698.8,257.6L696.3,258.9L695.7,263.9L691.3,263.9L686.3,262L681.3,258.9L676.2,256.4L671.8,253.3L670,249.5L667.5,248.9L664.9,251.4L661.2,252L659.9,246.4Z"/>
<path fill="#f3f8fd" stroke="#f3f8fd" d="M654.3,250.7L656.2,250.1L659.3,253.3L664.9,251.4L667.5,248.9L670,249.5L671.8,253.3L676.2,256.4L681.3,258.9L686.3,262L691.3,263.9L688.2,268.3L684.4,270.8L681.3,271.5L678.1,268.3L675,265.2L670,263.9L666.2,262.7L662.4,263.3L659.3,261.4L658.7,256.4L659.3,253.3L656.2,253.9L654.3,252.6Z"/>
<path fill="#dbe9f6" stroke="#dbe9f6" d="M699.5,249.5L703.8,248.2L708.9,247.6L716.4,247.9L722.7,249.1L722,250.7L716.4,252.9L711.4,256.4L706.4,258.3L698.8,257.6L702.6,256.4L705.7,254.5L702.6,252.9L697.6,253.9Z"/>
<path fill="#c3daee" stroke="#c3daee" d="M696.3,258.9L698.8,257.6L706.4,258.3L711.4,257.6L713.3,261.4L713.9,264.5L709.5,265.8L705.7,263.3L702.6,262.7L699.5,265.2L696.3,264.5L695.7,263.9Z"/>
<path fill="#dbe9f6" stroke="#dbe9f6" d="M681.3,271.5L684.4,270.8L688.2,268.3L691.3,263.9L696.3,264.5L699.5,265.2L702.6,262.7L705.7,263.3L709.5,265.8L713.9,264.5L715.1,265.8L710.1,267.1L707,269.6L706.4,274L703.8,277.7L702.6,281.5L697.6,284L696.3,288.4L690,289.6L684.4,287.8L680.6,282.7L681.3,279L680,275.2Z"/>
<path fill="#e4e4e4" stroke="#e4e4e4" d="M633.6,258.3L637.3,259.5L640.5,258.3L643,257.6L646.1,261.4L648.6,264.5L653.6,266.4L658.7,265.2L662.4,263.3L666.2,262.7L670,263.9L675,265.2L678.1,268.3L681.3,271.5L680,275.2L681.3,279L680.6,282.7L684.4,287.8L687.5,294L689.4,297.2L687.5,301.6L681.3,302.2L676.2,300.3L672.5,298.4L670.6,300.3L666.8,299.1L662.4,296.5L657.4,293.4L653,290.3L649.3,288.4L646.7,287.1L644.9,282.7L642.4,278.4L639.2,274L638,269.6L636.1,265.8L634.2,261.4Z"/>
<path fill="#60a6d2" stroke="#60a6d2" d="M623.5,247L628.5,247L633.6,249.5L636.1,250.7L634.8,252.6L631.1,252L626.7,250.1Z"/>
<path fill="#c3daee" stroke="#c3daee" d="M632.3,252.9L635.5,252.9L637.3,256.4L634.8,255.8Z"/>
<path fill="#a3cce3" stroke="#a3cce3" d="M636.1,251.1L639.8,252L643,251.4L646.1,255.1L646.1,258.3L643,257.6L640.5,258.3L637.3,256.4L635.5,252.9Z"/>
<path fill="#2474b7" stroke="#2474b7" d="M613.6,291.5L618,289L619.2,284L623,282.1L628.6,283.3L634.9,287.7L641.2,291.5L645.6,291.5L647.5,289L648.7,292.1L652.5,297.1L655.6,302.2L658.1,305.9L661.3,309.1L665.6,310.3L669.4,311.6L670.7,314.7L670,319.1L661.9,323.5L655,325.4L649.3,327.9L645.6,327.3L637.4,328.5L634.3,323.5L629.9,317.2L626.1,312.2L621.1,303.4L616.7,296.5Z"/>
<path fill="#60a6d2" stroke="#60a6d2" d="M637.4,328.5L645.6,327.3L649.3,327.9L655,325.4L661.9,323.5L664.8,329.8L660,334.8L652.5,337.9L645.6,340.4L639.9,342.3L638,336Z"/>
<path fill="#c3daee" stroke="#c3daee" d="M670.7,314.7L669.4,311.6L670.7,308.4L671.3,305.9L674.4,307.8L678.8,310.3L682.6,312.8L680.1,317.2L676.9,321L673.8,325.4L668.8,329.1L664.8,329.8L661.9,323.5L670,319.1Z"/>
<path fill="#1967ad" stroke="#1967ad" d="M661.3,309.1L665.6,307.8L669.4,305.3L671.3,301.5L671.9,305.3L670.7,308.4L669.4,311.6L665.6,310.3Z"/>
<path fill="#60a6d2" stroke="#60a6d2" d="M656.9,301.2L658.4,300.7L658.7,304L657.2,304.4Z"/>
<path fill="#dbe9f6" stroke="#dbe9f6" d="M623,282.1L626.1,277.1L629.3,270.8L629.9,265.8L636.2,266.4L639.3,267.6L639.9,273.9L644.3,279.6L646.8,284L647.5,287.7L645.6,291.5L641.2,291.5L634.9,287.7L628.6,283.3Z"/>
<path fill="#f3f8fd" stroke="#f3f8fd" d="M646.8,288.4L648.7,287.7L649.7,290.2L647.7,291.1L645.9,291.1Z"/>
<path fill="#e4e4e4" stroke="#e4e4e4" d="M614.2,269.5L621.1,267.6L629.3,265.8L629.9,265.8L629.3,270.8L626.1,277.1L623,282.1L621.7,278.9L618.6,280.8L614.8,277.7L615.1,273.9Z"/>
<path fill="#1967ad" stroke="#1967ad" d="M613.6,291.5L612.9,286.5L614.2,282.1L618.6,280.8L621.7,278.9L623,282.1L619.2,284L618,289Z"/>
<path fill="#1967ad" stroke="#1967ad" d="M611.7,282.7L613.6,280.8L614.2,282.7L612.9,286.5L613.3,290.9L612.1,287.1Z"/>
<path fill="#60a6d2" stroke="#60a6d2" d="M612.9,275.2L614.8,273.9L615.1,277.1L613.6,278.9Z"/>
<path fill="#08306b" stroke="#08306b" d="M717.5,282.5L725,280L727.5,273.8L730,278.8L728.8,283.8L735,290L750,296.2L760,297.5L760,300L765,298.8L775,297.5L782.5,295L783.8,301.2L780,305L775,310L772.5,313.8L770,306.2L766.2,308.8L762.5,313.8L758.8,316.2L755,321.2L750,327.5L742.5,332.5L741.2,342.5L738.8,350L735,357.5L731.2,353.8L727.5,345L722.5,332.5L718.8,320L717.5,313.8L711.2,316.2L707.5,311.2L709.5,308.8L704.5,305L705.5,297.5L710,290L713.8,283.8Z"/>
<path fill="#08306b" stroke="#08306b" d="M716.4,274L720.8,272.7L721.4,270.2L725.2,269.2L730.2,271.5L730.8,275.8L726.4,279L722.7,280.2L717.6,279L715.1,275.8Z"/>
<path fill="#0a4084" stroke="#0a4084" d="M684.4,287.8L690,289.6L696.3,288.4L697.6,284L702.6,281.5L703.8,277.7L706.4,274L707,269.6L710.1,267.1L715.1,265.8L717.6,268.3L721.4,270.2L720.8,272.7L716.4,274L715.1,275.8L717.6,279L715.8,282.7L713.9,286.5L711.4,291.5L708.9,295.3L708.2,300.3L710.1,305.3L706.4,306.6L703.8,303.5L702,302.2L690,302.8L687.5,301.6L689.4,297.2L687.5,294Z"/>
<path fill="#08306b" stroke="#08306b" d="M767.5,297.1L780.8,294.3L781.6,299L778.4,303.7L775.3,308.4L772.9,313.1L770.6,310L771.4,303.7L769,299.8Z"/>
<path fill="#e4e4e4" stroke="#e4e4e4" d="M767.5,292.7L773.7,290.9L778.4,291.5L780.8,294.3L776.9,295.1L771.4,296.7L767.8,297.1Z"/>
<path fill="#3282be" stroke="#3282be" d="M742.5,352.5L746.2,356.2L747.5,361.2L743.8,364.5L741.2,360Z"/>
<path fill="#60a6d2" stroke="#60a6d2" d="M735,290L738.8,288L750,293.8L760,296.2L760,298.8L750,297.5L740,294.5Z"/>
<path fill="#f3f8fd" stroke="#f3f8fd" d="M761.2,295L767.5,293.8L768.8,297L762.5,298Z"/>
<path fill="#1967ad" stroke="#1967ad" d="M760,301.2L766.2,300L770,306.2L772.5,313.8L767.5,313.8L763.8,313.8L762.5,307.5Z"/>
<path fill="#e4e4e4" stroke="#e4e4e4" d="M839.5,257.1L843.2,253.9L847,251.4L849.5,248.3L850.7,250.2L850.1,254.5L848.2,257.7L850.1,260.8L847.6,262.7L844.5,263.3L842.6,260.2Z"/>
<path fill="#4291c6" stroke="#4291c6" d="M848.2,263.3L850.7,261.5L854.5,264L857,268.4L858.3,272.1L855.8,273.4L852.6,274L850.7,270.9L849.5,267.1Z"/>
<path fill="#1967ad" stroke="#1967ad" d="M873.3,240.1L877.7,242L882.7,245.1L887.1,246.6L884,248.3L882.7,250.2L879.6,248.9L877.1,250.2L874.6,248.9L875.2,246.4L875.8,243.3Z"/>
<path fill="#1967ad" stroke="#1967ad" d="M877.7,253.3L880.2,252.7L882.7,256.4L884.6,260.2L885.3,264L887.1,269L887.8,271.5L884.6,272.7L881.5,273.4L879,275.3L877.7,276.5L875.8,274L872.7,275.3L870.8,277.8L868.3,276.5L865.8,277.1L863.3,279L863.9,275.3L867.1,272.1L871.5,271.5L875.2,270.2L876.5,266.5L877.1,262.7L879,259.6L878.4,255.8Z"/>
<path fill="#1967ad" stroke="#1967ad" d="M870.2,278.4L874,276.5L875.2,277.8L871.5,279.6Z"/>
<path fill="#1967ad" stroke="#1967ad" d="M863.3,279L865.8,278.4L868.3,280.3L868.9,284L867.1,284.7L864.5,282.2L862.7,280.3Z"/>
<path fill="#4291c6" stroke="#4291c6" d="M853.3,212.5L856.4,215.6L861.4,220.7L865.8,224.4L870.2,227.6L868.3,229.5L871.5,234.5L875.2,237L872.7,237.6L869.6,233.8L866.4,228.8L862.7,224.4L858.3,220L854.5,216.3Z"/>
<path fill="#78b5dc" stroke="#78b5dc" d="M771.9,314.5L774.4,308.8L776.9,302.5L778.8,297.5L781.3,295L784.4,296.9L785.7,302.5L787.6,307.6L790.7,313.2L793.2,317L790.7,320.1L787.6,322L786.9,325.8L788.2,330.2L790.7,334.5L792.6,340.2L794.5,345.2L793.2,345.8L791.3,341.5L788.8,335.2L786.9,330.8L783.8,332.7L780.7,333.3L778.8,328.9L776.9,323.9L774.4,319.5Z"/>
<path fill="#2474b7" stroke="#2474b7" d="M787.6,322L790.7,320.1L793.2,318.9L795.1,322L797,327L800.7,325.8L803.9,324.5L807,327L809.5,331.4L810.8,337.1L807,337.7L803.3,339.6L802,344L799.5,342.1L797.6,340.8L795.7,345.2L794.5,345.2L792.6,340.2L790.7,334.5L788.2,330.2L786.9,325.8Z"/>
<path fill="#e4e4e4" stroke="#e4e4e4" d="M798.2,313.2L801.4,311.3L806.4,310.1L808.9,312L810.8,314.5L813.3,317L810.2,319.5L809.5,322.6L812.7,326.4L816.4,330.2L819.6,334.5L821.5,339.6L822.1,344.6L819.6,348.4L815.2,350.9L812.7,354L810.8,355.3L810.2,351.5L812.7,349.6L815.8,346.5L817.1,342.7L816.4,338.3L815.2,337.7L814.5,334.5L812,330.2L808.9,325.8L805.8,322.6L803.3,319.5L800.7,317Z"/>
<path fill="#dbe9f6" stroke="#dbe9f6" d="M793.2,317L795.1,315.1L798.2,313.2L800.7,317L803.3,319.5L805.8,322.6L808.9,325.8L812,330.2L814.5,334.5L815.2,337.7L812.7,338.3L810.8,337.1L809.5,331.4L807,327L803.9,324.5L800.7,325.8L797,327L795.1,322L793.2,318.9Z"/>
<path fill="#c3daee" stroke="#c3daee" d="M803.3,339.6L807,337.7L810.8,337.1L812.7,338.3L816.4,338.3L817.1,342.7L815.8,346.5L812.7,349.6L810.2,349L807,347.7L804.5,345.2L803.3,342.1Z"/>
<path fill="#0a4084" stroke="#0a4084" d="M817.7,321.4L819.2,319.9L821.5,319.9L823,321.6L822.5,323.9L820.4,325.4L818.3,324.5Z"/>
<path fill="#0a4084" stroke="#0a4084" d="M846.8,305.7L848.4,303.2L850.1,303.8L850.3,308.8L849.3,312.6L847.8,313.2L846.5,310.1Z"/>
<path fill="#2474b7" stroke="#2474b7" d="M850.3,325.8L852.8,324.1L856,325.1L856.6,330.2L855.3,333.9L856,338.3L857.8,340.2L856.6,343.3L854.1,342.7L852.8,338.3L850.3,335.2L849.7,330.8Z"/>
<path fill="#2474b7" stroke="#2474b7" d="M856.6,338.3L862.9,338.9L863.5,341.5L860.4,340.8L857.8,340.2Z"/>
<path fill="#2474b7" stroke="#2474b7" d="M864.1,343.3L867.3,344.6L867.9,349L866,351.5L864.7,347.7Z"/>
<path fill="#2474b7" stroke="#2474b7" d="M857.8,346.5L860.4,345.8L862.2,349L861.6,352.7L859.3,352.1L858.5,349Z"/>
<path fill="#2474b7" stroke="#2474b7" d="M845.3,355.9L848.4,351.5L850.3,347.7L851.3,348L849.1,352.7L846.5,356.5Z"/>
<path fill="#0a4084" stroke="#0a4084" d="M784.4,366.3L787.5,365.1L791.9,367.6L796.3,372L800.7,376.4L805.1,380.1L809.5,384.5L813.3,388.3L815.8,391.4L814.5,395.2L813.9,400.8L810.7,401.5L807,398.3L802.6,393.9L798.8,388.9L795.1,383.3L791.3,377L787.5,371.3Z"/>
<path fill="#2474b7" stroke="#2474b7" d="M791.9,345L794.1,345L794.4,350L795.7,355L798.2,359.4L802,362.5L798.8,363.8L795.7,360L793.2,355.6L792.5,350Z"/>
<path fill="#c3daee" stroke="#c3daee" d="M798.8,363.8L802,362.5L805.1,365.7L807,370.1L808.9,375.1L810.1,378.9L807.6,378.2L804.5,375.1L801.3,371.3L799.5,367.6Z"/>
<path fill="#0a4084" stroke="#0a4084" d="M813.3,402.7L818.9,403.3L825.2,404.6L831.5,405.2L835.8,407.7L840.2,409L839,410.5L834,409.6L827.7,408L821.4,407.1L815.8,405.8L813.6,404.6Z"/>
<path fill="#0a4084" stroke="#0a4084" d="M841.5,409.2L845.3,409L848.4,410L847.8,411.2L842.7,410.9Z"/>
<path fill="#0a4084" stroke="#0a4084" d="M849.6,410L855.3,409.6L860.3,409L866.6,408.4L870.4,407.7L869.7,409L864.1,410L857.8,410.9L852.2,411.2Z"/>
<path fill="#0a4084" stroke="#0a4084" d="M850.3,413.4L854,414L853.4,415.3L850.5,414.6Z"/>
<path fill="#0a4084" stroke="#0a4084" d="M860.3,416.5L863.5,413.4L867.8,410.9L869.7,411.5L866.6,414L862.8,417.1Z"/>
<path fill="#0a4084" stroke="#0a4084" d="M875.4,377L877.3,375.1L877.9,378.9L876.6,381.4L877.3,385.1L875.6,385.1L875.1,381.4Z"/>
<path fill="#0a4084" stroke="#0a4084" d="M870.4,393.3L873.5,392.7L874.1,394.5L871,395.2Z"/>
<path fill="#0a4084" stroke="#0a4084" d="M876.6,392.7L880.4,392L884.2,393.3L883.5,394.9L879.1,394.2Z"/>
<path fill="#0a4084" stroke="#0a4084" d="M892.9,400.8L894.4,400.2L893.9,404L892.7,404.6Z"/>
<path fill="#0a4084" stroke="#0a4084" d="M790.7,378.2L791.9,380.1L791,380.7Z"/>
<path fill="#0a4084" stroke="#0a4084" d="M794.4,386.4L796.1,388.9L795.1,389.2Z"/>
<path fill="#0a4084" stroke="#0a4084" d="M786.3,373.8L787.8,375.1L786.9,375.7Z"/>
<path fill="#0a4084" stroke="#0a4084" d="M817.6,391.4L819.9,391.2L820.2,392.9L818.3,393.3Z"/>
<path fill="#0a4084" stroke="#0a4084" d="M809.5,383.3L811.1,382.9L811.4,384.5Z"/>
<path fill="#0a4084" stroke="#0a4084" d="M823.3,380.7L824.5,377.6L827.1,379.5L831.5,379.5L836.5,377L839.6,373.2L841.5,370.1L845.9,370.1L848.4,373.2L848.4,377.6L850.3,380.1L847.1,383.3L845.3,387.6L844,392.7L842.1,395.2L838.4,394.5L834,393.3L829.6,392.7L826.4,389.5L824.5,385.8Z"/>
<path fill="#c3daee" stroke="#c3daee" d="M827.1,379.5L829.6,375.1L834,371.3L838.4,367.6L842.1,363.8L844.6,361.3L848.4,363.8L851.5,366.3L847.8,368.2L845.9,370.1L841.5,370.1L839.6,373.2L836.5,377L831.5,379.5Z"/>
<path fill="#0a4084" stroke="#0a4084" d="M854,381.4L856.5,380.1L861.6,380.7L866.6,379.5L868.5,378.2L867.8,380.7L863.5,382.6L858.4,383.3L855.9,385.1L858.4,387.6L862.2,386.4L862.8,388.3L859.7,389.5L860.9,392.7L862.2,396.4L861.6,400.2L859.1,399.6L858.4,395.8L856.5,392L854.7,393.9L854,400.2L852.2,400.2L851.8,395.2L851.5,390.2L853.4,385.8Z"/>
<path fill="#2474b7" stroke="#2474b7" d="M858.4,359.4L860.9,356.9L864.7,356.3L867.8,353.8L870.4,355.6L871.6,359.4L869.7,363.2L867.8,364.4L866.6,361.9L863.5,360.7L860.3,361.3Z"/>
<path fill="#0a4084" stroke="#0a4084" d="M884.2,385.1L887.9,383.9L891.7,385.1L893.6,387.6L890.4,390.2L892.9,392L896.7,391.4L900.5,388.9L908,387.6L912.5,391.2L911.8,410L904.2,408L905.5,403.8L903.6,400.2L899.2,397.1L894.2,393.9L890.4,392L887.3,388.9Z"/>
<path fill="#85bcdc" stroke="#85bcdc" d="M912.3,391.9L917.3,393.2L923,396.9L926.1,400.7L930.5,403.2L928.6,405.1L931.8,408.9L934.9,412L938,413.9L936.8,416.4L932.4,415.1L928,413.3L923,411.4L918.6,412L914.8,412.6L911.7,411.4Z"/>
<path fill="#85bcdc" stroke="#85bcdc" d="M931.8,400.7L936.2,400.1L939.9,398.8L942.4,396.3L944.3,396.9L943.1,400.1L939.9,402.6L936.2,403.2L933,402.3Z"/>
<path fill="#85bcdc" stroke="#85bcdc" d="M941.2,392.5L944.3,394.4L945.9,396.9L944.9,397.6L942.7,395.1Z"/>
<path fill="#c3daee" stroke="#c3daee" d="M950,400.7L951.8,402L953.1,404.5L951.8,405.1L950.2,402.6Z"/>
<path fill="#c3daee" stroke="#c3daee" d="M954.4,404.5L956.9,405.7L957.5,407L955,406.4Z"/>
<path fill="#c3daee" stroke="#c3daee" d="M954.4,407.6L957.5,409.5L958.7,410.7L956.2,410.1Z"/>
<path fill="#c3daee" stroke="#c3daee" d="M960,407L963.1,408.2L963.8,409.5L960.6,408.9Z"/>
<path fill="#c3daee" stroke="#c3daee" d="M962.5,412.6L965.6,412.9L966.3,414.1L963.1,414.5Z"/>
<path fill="#c3daee" stroke="#c3daee" d="M965.6,409.5L967.3,411.4L967.5,413.3L966.3,412.4Z"/>
<path fill="#c3daee" stroke="#c3daee" d="M966.9,415.8L969.4,416.4L969.8,417.4L967.5,417.1Z"/>
<path fill="#115aa2" stroke="#115aa2" d="M879.2,421.2L885.5,418.8L893,420.5L898,422.5L895.5,426.2L894.2,430L900.5,433.8L905,437.5L908,433.8L910.5,427.5L913,420L915,417L917.5,422.5L919.2,430L921.8,437.5L925.5,445L929.2,451.2L931.8,458.8L935,463.8L933.5,470L930.5,477.5L925.5,485L919.2,492.5L913,498.8L908,503.8L901.8,506.2L896.8,505L893,503.8L888,504.5L884.2,500L884.2,493.8L885,487.5L880.5,493.8L878,490L874.2,485L868,482.5L860.5,483.8L850.5,486.2L843,490L834.2,492.5L826.8,494.5L823,491.2L826.8,483.8L827.5,475L826,466.2L828,458.8L831.8,452.5L840.5,448.8L849.2,446.2L854.2,441.2L860.5,435L868,430L873,426.2Z"/>
<path fill="#115aa2" stroke="#115aa2" d="M888.5,513.8L893,512.5L898,513L895.5,517.5L890.5,521.2L887.5,518.8Z"/>
<path fill="#f3f8fd" stroke="#f3f8fd" d="M974.2,493L976.8,492L977.5,498.8L983,502L980.5,505L975.5,507.5L971.8,511.2L968,510L970,505L974.2,501.2Z"/>
<path fill="#f3f8fd" stroke="#f3f8fd" d="M966.8,512.5L963,511.2L956.8,516.2L948,521.2L939.2,525L933,528.8L934.2,532L943,528.8L953,523.8L960.5,518.8L965.5,515Z"/>
<path fill="#0a4084" stroke="#0a4084" d="M493.3,282.5L495.7,277.7L503.5,273L505.1,269.9L513.7,271.5L515.3,275.4L513.7,280.1L510.6,282.5L508.2,285.6L503.5,288.7L498,290.3L495.7,295L485.5,295.3L489.4,290.3L492.5,286.4Z"/>
<path fill="#e4e4e4" stroke="#e4e4e4" d="M505.1,269.9L513.7,271.5L515.3,275.4L513.7,280.1L510.6,282.5L508.2,285.6L503.5,288.7L498,290.3L495.7,295L495.7,296.6L501.5,304.1L530.2,323.2L534.9,321.7L542.7,317L551.4,309.1L547.5,306L545.1,300.5L545.9,293.4L545.1,287.9L542.7,284L539.6,277.7L539.3,273L541.2,266L527.1,266.8L516.1,268.3Z"/>
<path fill="#60a6d2" stroke="#60a6d2" d="M541.2,266L545.1,265.2L547.5,266.8L546.7,270.7L549,274.6L549.8,278.5L546.7,282.5L545.1,287.9L542.7,284L539.6,277.7L539.3,273Z"/>
<path fill="#e4e4e4" stroke="#e4e4e4" d="M545.1,287.9L546.7,282.5L549.8,278.5L555.3,280.1L561.6,283.2L567.8,286.4L572.5,284.8L574.1,280.9L580.4,279.3L585.4,281.7L586.7,285.6L587,296.6L587.5,315.4L587.5,320.1L563.1,309.1L556.9,311L551.4,309.1L547.5,306L545.1,300.5L545.9,293.4Z"/>
<path fill="#093e81" stroke="#093e81" d="M586.7,284L592.9,284.8L600.8,285.6L607.1,284.8L611.8,285.6L613.3,290.3L612.5,294.2L610.2,292.6L607.8,289.5L607.1,291.9L611.8,299.7L616.5,309.1L618.8,313.8L587.5,313.8L587,296.6Z"/>
<path fill="#e4e4e4" stroke="#e4e4e4" d="M483.3,295.7L495.2,295.7L495.2,299.5L487.7,300.1L486.4,306.4L483.9,310.2L483.3,314.5L473.3,315.2L474.5,310.2L477.6,305.1L480.8,299.5Z"/>
<path fill="#e4e4e4" stroke="#e4e4e4" d="M473.3,315.2L483.3,314.5L483.9,310.2L486.4,306.4L487.7,300.1L495.2,299.5L495.2,296.4L501.5,304.1L503.4,332.7L487.7,334.6L484.5,332.7L480.2,330.9L475.8,331.5L473.9,329L474.5,322.7Z"/>
<path fill="#2474b7" stroke="#2474b7" d="M471.4,336.3L474.5,331.9L477.7,330.7L482.1,331.3L486.5,336.3L487.1,340.1L487.7,343.2L483.3,342.6L479.6,342L474.5,343.2L472.7,343.8L472,342L478.3,341.1L480.2,340.1L476.4,339.5L472.3,340.1Z"/>
<path fill="#0d4e94" stroke="#0d4e94" d="M472.3,340.1L476.4,339.5L480.2,340.1L478.3,341.1L472,342Z"/>
<path fill="#dbe9f6" stroke="#dbe9f6" d="M473.9,343.8L479.6,343.2L480.8,344.5L478.9,347L475.8,346.4Z"/>
<path fill="#dbe9f6" stroke="#dbe9f6" d="M478.9,347L480.8,344.5L487.7,343.8L492.1,344.5L494.9,344.5L495.9,350.1L496.1,355.1L494.9,358.9L492.7,357L490.2,356.4L489,353.3L485.8,351.4L482.7,352L480.8,350.1Z"/>
<path fill="#e4e4e4" stroke="#e4e4e4" d="M482.7,353.9L485.2,351.6L488.4,352.9L489.4,356.4L487.1,359.5L484.3,358.9L482.7,356.4Z"/>
<path fill="#f3f8fd" stroke="#f3f8fd" d="M487.1,359.9L489.6,357L492.7,357.4L494.9,359.5L497.1,363.3L498.4,368.3L495.3,367.1L491.5,364.5L489,362Z"/>
<path fill="#e4e4e4" stroke="#e4e4e4" d="M494.9,358.9L496.1,355.1L496.5,350.7L499.6,350.1L504,350.1L507.2,352L510.3,352.6L510.9,357.6L510.7,363.3L511.2,366.4L504.7,367.1L498.4,368.3L497.1,363.3Z"/>
<path fill="#85bcdc" stroke="#85bcdc" d="M501.5,304.1L508.2,308.3L530.2,323.2L527.9,322.5L530.8,323.1L530.4,331.9L526.6,334.4L521.6,335.7L516.6,336.3L512.2,338.2L509.1,340.7L505.3,343.2L504,347L503.4,350.1L499.6,350.1L496.5,350.7L495.6,344.5L492.1,344.5L487.7,343.8L487.1,340.1L486.5,336.3L488.4,335.1L494.6,333.8L504,333.2L503.4,320Z"/>
<path fill="#85bcdc" stroke="#85bcdc" d="M501.7,304.5L527.8,321.7L530.1,323L529.7,331.5L515.3,332.7L503.4,332.7Z"/>
<path fill="#4291c6" stroke="#4291c6" d="M504,347L505.3,343.2L509.1,340.7L512.2,338.2L516.6,336.3L519.1,336.9L521.6,340.7L524.7,343.8L525.4,345.7L521.6,347L519.1,348.2L514.7,348.2L510.3,349.5L510.3,352.6L507.2,352L504.7,350.7Z"/>
<path fill="#c3daee" stroke="#c3daee" d="M510.7,349.5L514.7,348.6L519.1,348.6L520,352.6L520.4,357.6L521,363.3L517.2,365.2L513.5,367.4L511.2,366.4L510.7,363.3L510.9,357.6L510.4,352.6Z"/>
<path fill="#a3cce3" stroke="#a3cce3" d="M519.5,348.6L522,348.2L522.5,352.6L523.2,362.7L521,363.3L520.4,357.6Z"/>
<path fill="#60a6d2" stroke="#60a6d2" d="M522,348.2L525.4,345.7L527.3,344.5L529.1,346.4L528.5,350.1L526.6,354.5L526.3,362.7L523.5,362.7L522.9,353.9Z"/>
<path fill="#3282be" stroke="#3282be" d="M530.2,323.2L534.9,321.7L542.7,317L551.4,309.1L556.9,311L560,315.4L562.4,320L561.1,327.5L559.3,332.5L556.7,337.6L556.1,340.1L552.4,341.3L548.6,340.7L543.6,342L538.5,340.7L534.2,339.5L530.4,340.7L529.1,343.8L527.3,344.5L524.7,343.8L521.6,340.7L519.1,336.9L521.6,335.7L526.6,334.4L530.4,331.9L530.8,323.1L527.9,322.5Z"/>
<path fill="#3282be" stroke="#3282be" d="M527.3,344.5L529.1,343.8L530.4,340.7L534.2,339.5L538.5,340.7L543.6,342L548.6,340.7L552.4,341.3L556.1,340.1L558,342.6L559.3,345.1L557.4,349.5L554.9,354.5L552.4,358.9L548.6,362L545.5,363.3L542.3,368.3L537.9,368.9L534.8,368.3L532.3,364.5L529.8,363.3L526.3,362.7L526.6,354.5L528.5,350.1L529.1,346.4Z"/>
<path fill="#4291c6" stroke="#4291c6" d="M560,315.4L556.9,311L563.1,309.1L587.5,320.1L585,318.8L583.8,332.5L581.2,341.2L582.5,348.8L576.2,352.5L570,357.5L562.5,360L559,352L557,346.2L556.2,338.8L560,331.2L561.2,322.5Z"/>
<path fill="#85bcdc" stroke="#85bcdc" d="M562,359.5L570,357.5L576.2,352.5L582.5,348.8L588.8,353.8L592.5,361.2L596.2,366.2L585,366.2L577.5,368.8L572.5,366.2L567.5,372.5L562.5,372.5L559,365Z"/>
<path fill="#f3f8fd" stroke="#f3f8fd" d="M545.5,363.3L548.6,362L552.4,358.9L554.9,354.5L557.4,349.5L559.3,347L561.1,348.2L559.3,352L561.8,353.9L560.5,357.6L559.9,363.3L561.8,368.3L564.3,373.3L563.6,376.5L556.1,375.8L549.8,375.8L546.7,375.8L546.1,370.8L543.6,368.3Z"/>
<path fill="#f3f8fd" stroke="#f3f8fd" d="M546.1,376.5L550.5,376.5L550.5,379.6L546.1,379.6Z"/>
<path fill="#dbe9f6" stroke="#dbe9f6" d="M546.1,380L550.5,379.6L550.5,376.5L555.5,376.5L556.1,379L559.3,379.6L558.6,383.4L559.3,388.4L556.1,389L554.2,390.3L552.4,394L550.5,394.7L547.3,390.3L544.2,385.9L543.6,384.6Z"/>
<path fill="#e4e4e4" stroke="#e4e4e4" d="M556.1,375.8L563.6,376.5L564.3,373.3L568.7,372.1L569.9,376.5L568.7,382.7L566.8,388.4L564.3,393.4L561.1,396.5L557.4,397.2L554.2,397.2L552.4,394.7L554.2,390.3L556.1,389L559.3,388.4L558.6,383.4L559.3,379.6L556.1,379Z"/>
<path fill="#dbe9f6" stroke="#dbe9f6" d="M587.5,313.8L618.8,313.8L623.8,327.5L620,336.2L616.2,343.8L612.5,351.2L608.8,346.2L606.2,351.2L600,350L596.2,352.5L590,351.2L585,348.8L582.5,348.8L581.2,341.2L583.8,332.5L585,318.8L587.5,320.1Z"/>
<path fill="#e4e4e4" stroke="#e4e4e4" d="M585,348.8L590,351.2L596.2,352.5L600,350L606.2,351.2L608.8,346.2L612.5,351.2L615,358.8L620,366.2L612.5,370L605,371.2L600,368.8L596.2,366.2L592.5,361.2L588.8,353.8L582.5,348.8Z"/>
<path fill="#0d4e94" stroke="#0d4e94" d="M615,370L622.5,368.8L630,371.2L637.5,368.8L633.8,378.8L635,388.8L630,396.2L623.8,391.2L613.8,385L616.2,377.5Z"/>
<path fill="#3282be" stroke="#3282be" d="M603.8,372.5L607.5,370L615,370L616.2,377.5L613.8,385L605,386.2L603,378.8Z"/>
<path fill="#c3daee" stroke="#c3daee" d="M601.2,387.5L605,387L604.5,395L601.2,395Z"/>
<path fill="#4291c6" stroke="#4291c6" d="M605,387.5L613.8,385L623.8,391.2L630,396.2L628.8,405L631.2,416.2L625,418.8L616.2,420L610,412.5L603.8,403.8L602,396.2Z"/>
<path fill="#85bcdc" stroke="#85bcdc" d="M639.2,348.4L643,349.3L649.9,347.5L655.9,346.3L660.6,345.4L661,349.7L659.3,355.7L655.9,363.4L651.6,370.2L646.5,376.6L641.3,381.3L636.2,388.2L635,388.8L633.6,381.3L634.5,371.9L636.2,368.1L641.3,366.8L645.6,365.1L649,361.7L651.6,358.7L649,357.4L644.8,354.8L641.3,352.2L638.8,349.3Z"/>
<path fill="#1967ad" stroke="#1967ad" d="M611.4,357.8L613.5,354.8L614.8,351.4L616.5,347.1L618.7,342.8L620.4,339L624.2,337.3L627.6,337.7L631.1,339L633.6,341.6L635.8,344.1L636.6,346.7L638.8,349.3L641.3,352.2L644.8,354.8L649,357.4L651.6,358.7L649,361.7L645.6,365.1L641.3,366.8L636.2,368.1L632.8,369.8L630.2,371.1L627.6,371.9L624.2,370.2L620.8,368.5L618.2,366.8L616.5,363.4L614.8,359.9Z"/>
<path fill="#f3f8fd" stroke="#f3f8fd" d="M620.4,339L621.2,335.1L622.1,331.7L623.4,330L625.9,330L627.2,332.6L630.2,335.1L633.6,339L636.6,342.8L637.9,344.1L636.6,346.7L635.8,344.1L633.6,341.6L631.1,339L627.6,337.7L624.2,337.3Z"/>
<path fill="#60a6d2" stroke="#60a6d2" d="M636.6,346.7L637.9,344.1L639.5,344.5L639.2,346.7L637.9,348Z"/>
<path fill="#e4e4e4" stroke="#e4e4e4" d="M567.5,372.5L572.5,366.2L577.5,368.8L585,366.2L596.2,366.2L600,368.8L605,371.2L603.8,378.8L605,386.2L601.2,388.8L602,396.2L603.8,403.8L598.8,410L597.5,415L598.8,421.2L596.2,422.5L590,417.5L581.2,418.8L580,406.2L573.8,407.5L567.5,407.5L565,402.5L556.2,400L560,395L565,387.5L567.5,380Z"/>
<path fill="#1967ad" stroke="#1967ad" d="M555,402.5L565,402.5L567.5,407.5L573.8,407.5L580,406.2L581.2,418.8L585,418.8L585,422.5L580,425L580,436.2L582.7,438.8L576.4,439.1L567.6,438.6L558.9,437.6L552,437.3L552.6,430L553.8,426.2L558.8,417.5L556.2,408.8Z"/>
<path fill="#1967ad" stroke="#1967ad" d="M553,398L555.5,399.5L554.5,402Z"/>
<path fill="#a3cce3" stroke="#a3cce3" d="M581.2,418.8L590,417.5L596.2,422.5L598.8,421.2L597.5,415L599,409.5L603.8,404L610,412.5L612.5,418.8L610,426.2L605.3,430L602.2,432.5L599,433.8L594,436.9L590.2,440.1L588.4,439.5L583.3,440.1L582.7,438.8L580.2,432.5L580.2,425L584.6,424.4Z"/>
<path fill="#60a6d2" stroke="#60a6d2" d="M612.2,425L613.8,422.5L613.5,420L616.6,420L617.2,426.3L618.5,431.3L616.6,436.9L615.3,435.1L616,431.9L614.1,428.8Z"/>
<path fill="#60a6d2" stroke="#60a6d2" d="M616.2,420L625,418.8L631.2,416.2L632,427.5L630.4,432.5L625.4,437.6L620.4,441.3L615.3,446.4L614.7,451.4L616.6,456.4L615.3,460.2L610.3,462.7L608.4,464.5L607.8,467.1L605.9,464.5L605.3,458.9L605.9,455.1L604,453.9L606.5,451.4L609.1,445.1L609.7,438.8L607.2,435.1L602.2,432.5L605.3,430L610.3,427.5L612.2,425L614.1,428.8L616,431.9L615.3,435.1L616.6,436.9L618.5,431.3L617.2,426.3L616.6,420Z"/>
<path fill="#f3f8fd" stroke="#f3f8fd" d="M590.2,441.3L594,436.9L599,433.8L602.2,432.5L607.2,435.1L609.7,438.8L609.1,445.1L606.5,451.4L604,453.9L598.4,453.3L594,446.4Z"/>
<path fill="#dbe9f6" stroke="#dbe9f6" d="M552,437.6L558.9,437.8L567.6,438.8L576.4,439.5L582.7,439.1L585.8,438.8L583.3,440.1L577.1,440.7L576.4,451.4L573.9,456.4L573.9,462.7L573.3,468.3L572,473.3L568.9,474.6L565.8,472.1L563.9,473.3L561.4,470.2L559.5,462.7L558.2,455.1L555.1,446.4L552.6,441.3Z"/>
<path fill="#a3cce3" stroke="#a3cce3" d="M577.1,440.7L583.3,440.1L588.4,439.5L590.2,441.3L594,446.4L598.4,453.3L592.7,456.4L590.2,461.4L587.1,463.9L584,462.7L581.5,463.9L578.3,465.2L575.8,467.7L573.9,462.7L573.9,456.4L576.4,451.4Z"/>
<path fill="#08306b" stroke="#08306b" d="M563.9,473.3L565.8,472.1L568.9,474.6L572,473.3L573.3,468.3L573.9,462.7L575.8,467.7L578.3,465.2L581.5,463.9L584,462.7L587.1,463.9L590.2,461.4L592.7,456.4L598.4,453.3L604,453.9L605.9,455.1L605.3,458.9L605.9,464.5L607.8,467.1L607.6,469.6L605.3,474L601.5,479L597.1,484L591.5,488.4L585.2,490.9L578.9,491.5L572.7,493L568.9,491.5L567,487.8L567.6,485.3L565.8,480.2Z"/>
<path fill="#60a6d2" stroke="#60a6d2" d="M592.1,476.5L595.3,474L597.8,475.8L595.9,478.7L593.4,479.6Z"/>
<path fill="#f3f8fd" stroke="#f3f8fd" d="M603,466.4L604.7,465.2L605.9,467.1L605,469.2L603.4,468.9Z"/>
<path fill="#c3daee" stroke="#c3daee" d="M637.3,453.9L640.4,445.1L641.7,436.3L649.2,432.5L653.6,426.3L655.5,421.9L657.4,425L658,432.5L655.5,441.3L651.7,451.4L648,460.2L642.9,463.9L638.5,462L637.3,457.6Z"/>
</g><g stroke="#0b0f1a" stroke-width="0.55" stroke-linejoin="round">
<path fill="#0d4e94" d="M179.5,173L183.8,170L193,167.5L202.5,166.2L210,165L217.5,166.5L226.2,167.5L235,169.2L250,168.2L263.8,167.5L268,168.4L273,169.6L279.3,171.5L284.3,172.8L290.6,174L295,175.9L298.1,172.2L305.6,172.8L313.2,172.2L318.2,174.7L322,172.8L327,170.3L329.5,167.1L332,169.6L335.1,169.6L336.4,172.2L340.2,170.9L338.3,174.7L340.8,176.5L338.3,179.1L343.3,181.6L345.8,184.7L343.3,186L338.9,184.7L335.8,183.5L333.3,182.2L328.2,182.2L323.2,184.7L316.9,188.5L310.7,192.2L306.9,196.6L308.2,200.4L309.4,203.5L315.7,205.4L322,209.2L327,210.4L325.7,214.8L327,219.8L332.2,217.8L333,211.6L335.4,207.6L342.4,203.7L344,199L346.4,192.7L349.5,189.6L358.1,189.3L362,192L364.4,199L368.3,199.8L375.4,194.3L377.7,201.4L379.3,207.6L384.1,211.9L386.6,215.7L385.4,220.1L382.2,221.3L377.8,222.6L371.6,224.5L365.3,224.5L360.3,225.7L355.3,227.4L351.5,229.1L349,231.4L355.3,229.1L360.9,228.6L361.5,230.7L358.4,232.6L359.6,235.8L363.4,237.6L367.8,236.4L369.7,235.8L369.1,238.3L364,240.2L359.6,242L355.3,244.5L352.7,245.2L352.7,243.3L355.3,241.4L351.5,240.8L347.7,243.3L342.7,245.8L339.6,248.3L339.6,250.8L333.9,252.7L329.5,255.2L326.4,258.4L323.3,260.2L321.4,262.7L320.7,265.3L320.1,270.3L317.6,272.8L313.8,275.3L308.8,278.4L304.4,281.6L301.9,285.3L300,287.5L301.2,292.5L301.8,298.8L300,302.5L297.5,300L296.2,293.8L293.8,290L288.8,288.8L281.2,287.5L275,290L267.5,288.8L261.2,291.2L257,296.2L255.5,301.2L253.8,298.8L251.2,293.8L247.5,288.8L243.8,290L240,288.8L237.5,285L230,283.8L217.5,282L208.8,280L205,276.2L201.2,270L200,262.5L201.2,255L201.2,255L205,247.5L210,240L216.2,231.2L217.5,227.5L215,225L211.2,222.5L212.5,220L213.8,216.2L215,211.2L213.8,207.5L210,203.8L207.5,198.8L206.2,194.2L200,195L195,194L191.2,193L187.5,193L183.8,195L179.5,196.5L172.5,199.8L166.2,202.2L160,204.5L153.8,206.5L147.5,208.2L141.2,210.2L133.8,212.2L137.5,209.8L145,206.8L152.5,204L160,201.2L166.5,199L164.5,198.2L161.2,198L156.2,196.2L153,194.5L153.8,192L157.5,190L163.8,188L171.2,186.2L175,183.8L170,182.5L165.5,181.5L167.5,179.5L175,178.5L181.2,176.5L182.5,175Z"/>
<path fill="none" d="M235,169.2L207.5,195"/>
<path fill="none" d="M217.5,228L240,227L262.5,227L287.5,229.2L290,229.9L297.5,230.4L302.5,230.7L307.6,233.3L311.3,237L312.6,241.4L310.7,246.4L307.6,249.6L308.2,251.5L312.6,250.2L318.9,247.1L326.4,243.3L333.3,240.2L340.2,236.4L345.2,233.6L349,232L351.5,235.1L350.2,238.9L351.5,240.8"/>
<path fill="#0d4e94" d="M273,162.7L278,159L284.3,156.5L291.8,156.5L297.5,157.7L295,160.2L288.1,161.5L283.1,163.4L278,164.9Z"/>
<path fill="#0d4e94" d="M283.7,168.4L284.9,164L290,162.1L296.9,160.9L303.1,162.1L308.2,161.5L311.3,159L317.6,158.4L316.3,161.5L313.8,164.6L315.7,167.8L311.3,169.6L305.6,169.6L299.4,170.3L293.1,170.9L286.8,170.3Z"/>
<path fill="#0d4e94" d="M292.5,152.1L298.1,150.2L306.9,148.9L310.7,150.8L309.4,152.7L315.7,150.8L320.7,152.1L323.2,154.6L317.6,155.8L310.7,155.2L304.4,155.8L299.4,154.6L294.4,153.3Z"/>
<path fill="#0d4e94" d="M312.5,148.3L318.2,146.8L323.8,146.4L322,148.3L316.3,149.6Z"/>
<path fill="#0d4e94" d="M326.4,152.7L330.7,150.8L336.4,151.5L338.9,153.3L335.1,155.2L330.1,154.6Z"/>
<path fill="#0d4e94" d="M332.6,145.8L337.6,144.5L342,146.4L339.5,148.3L334.5,148.1Z"/>
<path fill="#0d4e94" d="M343.3,147.1L347.1,145.8L350.2,147.7L347.1,149.3Z"/>
<path fill="#0d4e94" d="M345.8,143.3L347.7,143L347.7,144.3Z"/>
<path fill="#0d4e94" d="M342,151.5L347.1,150.2L353.3,150.8L358.4,152.1L367.1,152.7L370.3,154.6L365.9,156.1L358.4,156.5L350.8,155.8L345.8,155.2L342,154Z"/>
<path fill="#0d4e94" d="M351.5,143.9L355.8,142L363.4,140.8L372.2,139.3L380.9,138L389.7,137.3L396,137L401,137.3L401,140.8L396,143.9L388.5,145.2L386,147.7L378.4,149.6L374.7,151.5L368.4,150.8L363.4,149.6L358.4,149.6L354.6,147.7Z"/>
<path fill="#0d4e94" d="M320.1,161.5L324.5,159L330.7,157.7L333.3,159L329.5,162.1L327,164.6L323.2,163.4Z"/>
<path fill="#0d4e94" d="M334.5,159L340.8,157.7L343.3,159L339.5,162.1L336.4,163.4L335.8,167.1L333.3,168.4L332,164.6L333.3,161.5Z"/>
<path fill="#0d4e94" d="M318.2,170.9L322,169L325.1,170.3L323.2,173.4L319.5,174Z"/>
<path fill="#0d4e94" d="M342,164.6L344.5,160.9L350.8,158.6L358.4,158.6L365.9,159L370.9,159L373.4,162.1L376.5,165.3L381.6,166.5L383.5,169.6L380.9,172.8L387.2,175.3L391,176.5L386.6,180.3L381.6,179.7L378.4,178.4L377.2,181.6L379.7,184.7L378.4,187.8L374.7,189.7L370.3,187.2L365.9,184.1L363.4,182.2L355.8,182.8L353.3,181.6L358.4,180.3L363.4,179.1L367.1,176.5L369,173.4L367.1,170.3L363.4,168.4L359.6,167.8L355.8,169.6L353.3,172.2L350.8,175.3L345.8,176.5L342,175.9L345.8,173.4L349.6,170.9L352.1,168.4L349.6,166.5L345.8,166.5Z"/>
<path fill="#0d4e94" d="M360.9,172.2L367.1,171.9L366.5,174L361.5,174Z"/>
<path fill="#0d4e94" d="M336.4,187.8L340.2,186.6L342,187.8L338.3,189.7Z"/>
<path fill="#0d4e94" d="M343.3,189.7L345.8,189.1L345.2,190.7Z"/>
<path fill="none" d="M286.8,166.5L293.1,165.9L292.5,167.1"/>
<path fill="none" d="M288.1,159L295,158.6"/>
<path fill="none" d="M299.4,152.1L305.6,150.8"/>
<path fill="none" d="M353.3,153.3L363.4,154.3"/>
<path fill="none" d="M358.4,145.8L368.4,144.5L373.4,145.2"/>
<path fill="none" d="M375.9,142L384.7,141"/>
<path fill="none" d="M345.8,162.1L349.6,160.2L348.3,163.4"/>
<path fill="none" d="M372.2,169.6L377.2,170.9L375.9,173.4"/>
<path fill="none" d="M370.9,182.2L374.7,184.7"/>
<path fill="#0d4e94" d="M119.5,216L122.5,215L123,216L120,217Z"/>
<path fill="#0d4e94" d="M125,214L128,213L128.5,214L125.5,215Z"/>
<path fill="#0d4e94" d="M129.5,212.5L132,211.5L132.5,212.5Z"/>
<path fill="#0d4e94" d="M90.5,319L93.5,319.5L93.8,322.5L91.5,323.8L90,321.5Z"/>
<path fill="#0d4e94" d="M82.5,312.5L84,312.8L83.5,313.8Z"/>
<path fill="#0d4e94" d="M85.5,314.5L87.5,315L87,316.3Z"/>
<path fill="#0d4e94" d="M88.5,316.8L90.3,317.3L89.8,318.3Z"/>
<path fill="#0d4e94" d="M163,164L168.5,163.5L168,165.2L163.5,165.5Z"/>
<path fill="#0d4e94" d="M145.5,194L148,193.5L148.5,195.5L146,196Z"/>
<path fill="#0d4e94" d="M167,202L171,200L174,200.5L172,203L168,203.5Z"/>
<path fill="#0d4e94" d="M261,383L263.5,382.5L264,385L262,385.5Z"/>
<path fill="#0d4e94" d="M373.5,232.6L377.8,228.2L381,223.8L383.5,221.3L384.7,224.5L386.6,227L389.1,228.2L389.1,231.4L388.5,235.1L386,235.8L384.1,233.3L381.6,234.5L377.8,233.3Z"/>
<path fill="#0d4e94" d="M362.8,226.4L368.4,227.4L367.8,228.6L363.4,227.9Z"/>
<path fill="#0d4e94" d="M208,197.5L211.2,196.2L212.5,201.2L210,203.8Z"/>
<path fill="#0d4e94" d="M210,204.5L213.8,203.8L215,208L211.8,209.5Z"/>
<path fill="#0d4e94" d="M212,210L215.5,209.5L216.5,213.8L213,214.5Z"/>
<path fill="#0d4e94" d="M205.5,213L208.5,212L209.5,216.2L207,218.8Z"/>
<path fill="#0d4e94" d="M198.8,193L201.2,192L203,194L200,195Z"/>
<path fill="#0d4e94" d="M208.8,223.5L212.6,222.3L215.7,223.5L215.1,225.6L212.6,226.3L210.1,225.3Z"/>
<path fill="#fff" d="M214.5,224.8L217,225.3L218.9,229L218.1,231.9L216.6,229.8L215.5,226.9Z"/>
<path fill="#4291c6" d="M137.5,181.2L152.5,171.2L162.5,176.2L161.2,180L150,183L142.5,180Z"/>
<path fill="#e4e4e4" d="M388.8,147.6L393.8,145.7L401.3,144.4L408.9,141.9L416.4,140L423.9,139L434,138.5L442.7,137.5L450.3,136.9L457.8,136L467.8,136.3L476.6,137.3L482.9,138.5L490.4,140L498.6,140.3L492.9,142.5L486.7,144.4L482.9,146.9L485.4,150.1L482.3,152L485.4,154.5L480.4,156.4L476.6,159.5L475.4,162.6L476.6,165.8L472.9,167.6L467.8,168.9L462.8,170.2L457.8,172L452.8,173.3L449,175.2L445.3,177.1L440.2,178.9L435.2,180.8L432.7,184L429.6,187.1L426.4,190.2L423.9,194L421.4,195.9L417.6,194.6L413.9,192.1L410.7,189L408.2,184L407,178.3L409.5,173.9L408.2,170.2L410.7,166.4L409.5,163.3L412.6,158.9L411.4,155.1L407,153.2L400.1,152.6L392.5,152L389.4,150.1Z"/>
<path fill="none" d="M463.5,167L466.6,163.9L470.4,165.8L467.8,167.4"/>
<path fill="none" d="M469.7,160.1L473.5,162L476,160.1L474.1,158.9"/>
<path fill="none" d="M479.1,151.3L482.3,150.1L483.5,151.3"/>
<path fill="none" d="M479.1,155.1L482.9,153.8L483.9,154.8"/>
<path fill="none" d="M410.1,166.4L413.9,165.1L417,167.6L413.3,170.2L410.1,168.9"/>
<path fill="none" d="M391.9,148.8L398.8,148.2L398.2,149.5"/>
<path fill="none" d="M440.2,138.5L445.3,137.8L444.6,139"/>
<path fill="none" d="M467.8,139L475.4,138.8L476.6,140"/>
<path fill="#60a6d2" d="M467.8,180.2L471.6,177.7L475.4,178.9L480.4,177.7L486.7,177.4L490.4,179.6L490.4,182.1L486.7,184L481.6,185.2L477.9,186.2L473.5,185.2L470.4,183.3L472.2,181.5L468.5,180.8Z"/>
<path fill="#0a4084" d="M208.8,280L217.5,282L230,283.8L237.5,285L240,288.8L243.8,290L247.5,288.8L251.2,293.8L253.8,298.8L255.5,301.2L255.7,301.3L253.8,306.3L252.5,312.6L253.8,318.2L256.9,322.6L261.3,324.5L266.4,323.9L269.5,321.4L271.4,317.6L273.9,315.7L281.4,315.1L280.8,318.2L278.3,322.6L276.4,325.1L273.9,327.6L271.4,327L268.2,327.6L267,331.4L264.5,334.5L260.7,332L256.3,332.7L251.9,333.3L246.3,330.8L240,328.3L236.2,325L230,320L228.8,313.8L225,305L221.2,295L218.5,284L216,283L215.5,288.8L217,296.2L219.5,303.8L221,309.5L219,310.5L215.5,303.8L212,295.5L209.5,287.5Z"/>
<path fill="#60a6d2" d="M264.5,334.5L267,331.4L268.2,327.6L271.4,327L273.9,327.6L273.6,331.4L275.1,333.3L272.9,335.8L270.7,338.3L267.6,338.9L265.1,337.1Z"/>
<path fill="#f3f8fd" d="M274.1,327.6L276.4,325.4L276.6,328.9L274.9,332L273.9,331.4Z"/>
<path fill="#3282be" d="M270.7,338.3L272.9,336.2L275.8,337.4L277.6,339.2L276.4,340.8L272.9,340.2Z"/>
<path fill="#3282be" d="M272.9,335.8L275.1,333.3L280.2,333.3L285.8,333.3L288.7,335.2L286.4,337.1L283.3,337.7L280.2,340.2L277.6,339.2L275.8,337.4Z"/>
<path fill="#60a6d2" d="M277.6,340.8L280.2,340.2L283.3,337.7L286.4,337.1L288.7,335.4L288.3,340.2L287.4,345.2L286.7,348.4L283.3,348.4L280.8,345.2Z"/>
<path fill="#1967ad" d="M280.8,348.4L283.3,348.4L286.7,348.7L288.3,352.1L289.2,355.3L287.1,356.5L285.2,354L282.7,352.1L280.8,350.2Z"/>
<path fill="#60a6d2" d="M289.2,355.3L291.5,354L294.6,355.9L297.7,353.4L300.9,353.4L303.4,355.9L304,359L302.1,359.6L300.9,356.5L298.4,355.3L295.8,357.8L294.6,360.3L292.1,358.4L289.6,357.1Z"/>
<path fill="#85bcdc" d="M288.3,312.6L291.5,310.3L295.8,309.5L300.2,310.7L305.3,313.2L310.3,315.7L314.7,318.2L315.9,319.5L312.2,320.4L307.8,320.7L306.5,318.9L304,316.4L300.2,314.5L296.5,313.2L292.7,312.6L290.2,313.8Z"/>
<path fill="#4291c6" d="M304,325.1L307.1,324.5L309,326.1L306.5,327L304.3,326.6Z"/>
<path fill="#4291c6" d="M314,324.5L317.8,323.6L321.6,322.9L322.2,326.4L320.3,325.8L317.2,325.4L315.3,325.8Z"/>
<path fill="#4291c6" d="M321.6,320.7L325.3,319.9L329.1,322L331,323.9L327.8,325.1L324.1,325.8L322.2,327L321.8,323.3Z"/>
<path fill="#fff" d="M334.1,324.5L338.5,324.1L338.5,326.1L334.4,326.4Z"/>
<path fill="#fff" d="M308.8,298.2L310.3,299L309.3,300.7Z"/>
<path fill="#fff" d="M306.3,303.8L307.8,305.1L307.1,307.6Z"/>
<path fill="#fff" d="M317.8,315.7L319.3,316.4L318.4,317Z"/>
<path fill="#fff" d="M320.6,313.3L321.6,313.6L321.1,314.3Z"/>
<path fill="#fff" d="M345.2,325.5L346.2,325.9L345.7,326.6Z"/>
<path fill="#fff" d="M347.7,327.4L348.5,328L347.9,328.7Z"/>
<path fill="#fff" d="M348.9,331.2L349.8,331.7L349.2,332.4Z"/>
<path fill="#fff" d="M349.9,334.9L350.7,335.4L350.1,336.2Z"/>
<path fill="#fff" d="M350.2,338.7L350.9,339.2L350.3,339.9Z"/>
<path fill="#fff" d="M349.6,341.2L350.3,341.7L349.7,342.5Z"/>
<path fill="#fff" d="M347.7,344.3L348.4,344.8L347.8,345.6Z"/>
<path fill="#fff" d="M353.6,340.8L354.4,341.2L353.9,342Z"/>
<path fill="#fff" d="M347.3,349.6L350.4,349L350.2,351.5L347.7,351.7Z"/>
<path fill="#fff" d="M292.1,313.8L293.3,314.1L292.7,315.1Z"/>
<path fill="#fff" d="M295.2,321.6L296.5,321.9L295.8,322.6Z"/>
<path fill="#2474b7" d="M292.5,398.4L295.7,395.8L298.8,397.7L301.3,392.7L305.7,390.2L308.2,387.1L308.9,383.3L312,386.4L315.1,389.6L317.6,390.2L321.4,391.5L323.3,395.2L320.2,397.1L316.4,399.6L313.9,404L314.5,408.4L318.9,412.2L323.3,414L323.9,417.2L327.7,417.8L328.8,423.8L327.5,431.2L328,436.2L326.2,441.2L323.8,438.8L316.2,433.8L308.8,427.5L303.8,418.8L298.8,408.8L295.7,404.6L293.2,401.5Z"/>
<path fill="#2474b7" d="M293.8,387.7L295.7,382.7L298.8,380.2L300.1,380.2L305.1,381.4L308.9,383.3L308.2,387.1L305.7,390.2L301.3,392.7L298.8,397.7L295.7,395.8L295.7,392.1Z"/>
<path fill="#1660a8" d="M303.2,358.8L305.1,356.3L308.9,352.5L312.6,349.4L317.6,346.3L320.8,343.8L321.4,345.6L318.9,348.2L317,351.3L317.6,356.3L320.2,359.5L325.2,362L330.2,363.2L331.5,368.9L331.5,376.4L328.3,377L324.5,377.6L323.3,381.4L323.9,387.7L323.3,390.8L321.4,391.5L317.6,390.2L315.1,389.6L312,386.4L308.9,383.3L305.1,381.4L300.1,380.2L298.8,377.6L301.3,373.9L303.2,368.9L303.8,363.8Z"/>
<path fill="#e4e4e4" d="M317.6,351.3L318.9,348.2L321.4,345.6L323.3,346.9L328.3,348.2L332.7,350L337.1,350.7L342.7,350L348.4,351.9L350.3,355.1L352.2,356.9L349.6,360.7L349,364.5L350.3,367L345.3,369.5L339.6,370.7L340.2,373.9L341.5,377L337.1,380.2L334,380.2L332.1,376.4L331.5,368.9L330.2,363.2L325.2,362L320.2,359.5L317.6,356.3Z"/>
<path fill="#a3cce3" d="M352.2,356.9L355.3,360.1L358.4,364.5L357.8,368.2L357.2,371.4L359.7,375.8L356.5,378.3L353.4,377.6L352.2,372.6L352.8,368.9L350.3,367L349,364.5L349.6,360.7Z"/>
<path fill="#dbe9f6" d="M358.4,365.1L363.5,364.5L367.8,365.1L367.8,370.7L367.2,375.1L362.8,375.8L360.3,376.4L357.8,371.4L358.1,368.2Z"/>
<path fill="#08306b" d="M323.3,381.4L324.5,377.6L328.3,377L331.5,376.4L334,380.2L337.1,380.2L341.5,377L340.2,373.9L339.6,370.7L345.3,369.5L350.3,367L352.8,368.9L352.2,372.6L353.4,377.6L356.5,378.3L359.7,375.8L362.8,375.8L367.2,375.1L367.8,370.7L367.8,365.1L371.6,365.7L375.4,369.5L376.6,372.6L379.1,377.6L380.4,381.4L376.6,383.3L373.5,387.7L377.9,385.8L380.4,383.9L384.2,385.2L382.9,388.3L386.7,385.8L391.7,387.7L395.5,390.2L400.5,391.5L400,390L407.5,392.5L415,396.2L420,400L422,406.2L420,413.8L416.2,420L412.5,426.2L411.2,435L410,443.8L406.2,452.5L400,456.2L393.8,458.8L388.8,463.8L386.2,470L383.8,477.5L380,482.5L377,485L372.5,482L366.2,479.5L370,473.8L373.8,467.5L371.2,465L370,460L365,456.2L360,446.2L356.2,437.5L350,431.2L347.8,425.3L342.7,421.6L338.4,418.4L336.5,415.3L332.7,415.9L327.7,417.8L323.9,417.2L323.3,414L318.9,412.2L314.5,408.4L313.9,404L316.4,399.6L320.2,397.1L323.3,395.2L321.4,391.5L323.3,390.8L323.9,387.7Z"/>
<path fill="none" d="M367.8,375.1L370.4,376L373.5,375.8L376,372.9"/>
<path fill="#3282be" d="M327.4,419.1L334.9,415.3L337.8,417.2L348.1,425.6L352.8,431.3L357.5,436.9L360,443.2L353.8,444.5L349.1,447.3L348.1,452.9L342.5,452.9L335.9,454.4L332.1,447.3L328.4,440.7L327.4,434.1L329.3,426.6Z"/>
<path fill="#f3f8fd" d="M349.1,447.3L353.8,444.5L359.4,445.8L362.2,452.9L369.8,457.6L371.6,463.3L368.8,469.9L362.2,469.9L363.2,463.3L356.6,457.6L350,453.9L348.1,452.9Z"/>
<path fill="#1967ad" d="M366.2,479.5L372.5,482L377,485L377.5,488.8L373.8,492.5L368.8,492L365,488.8L365,483.8Z"/>
<path fill="#0e549c" d="M326.2,441.2L328.8,441.2L332.5,448.8L336.2,455L333.8,465L332.5,477.5L332,485L332,480L333.9,487.5L334.5,495.1L334.5,502.6L334.9,510.1L336.4,517.6L338.3,523.9L340.2,530.2L340.8,536.5L341.5,541.5L345.2,545.3L350.2,546.5L353.4,545.3L356.5,548.4L361.5,552.8L366.5,555L360.3,557.2L354,555.3L347.7,552.2L344,548.4L340.2,544.6L337.1,540.9L333.9,535.2L332,528.9L333.9,523.9L333.3,517.6L330.8,518.9L330.2,512.6L328.9,506.4L327,501.3L327.6,495.1L328.3,487.5L327.6,480L328,477.5L328.8,465L328.8,452.5Z"/>
<path fill="#0a4084" d="M336.2,455L342.5,453L348,452.5L350,453.8L357.5,458.8L363.8,463.8L362.5,469.5L368.8,469.5L371.2,465L373.8,467.5L370,473.8L366.2,479.5L365,483.8L365.3,483.8L365.3,490L368.4,493.8L370.9,498.8L369.7,503.8L364,505.7L359,507L359,512L354,513.3L353.4,515.8L357.1,517L354.6,518.9L355.3,523.9L351.5,527.1L352.7,530.2L356.5,532.7L357.1,535.8L354.6,539L352.7,542.7L353.4,545.3L350.2,546.5L345.2,545.3L341.5,541.5L340.8,536.5L340.2,530.2L338.3,523.9L336.4,517.6L334.9,510.1L334.5,502.6L334.5,495.1L333.9,487.5L332,480L332.5,477.5L333.8,465Z"/>
<path fill="#fff" d="M374.1,545.9L376.6,544.6L380.4,545.3L378.5,547.1L374.7,547.5Z"/>
<path fill="#4291c6" d="M538,144.7L545.9,143.5L553.7,142.4L566.3,143.5L561.6,146.3L556.9,148.6L550.6,151.3L545.9,148.6L542,147.1Z"/>
<path fill="#4291c6" d="M532.5,200.2L530.7,196.4L530.7,191.4L534.4,187.6L538.8,185.7L543.2,182L545.7,177L548.2,172.6L553.9,169.4L560.2,166.9L565.8,165.7L571.5,165.7L576.5,166.3L580.2,167.5L579,169.4L575.8,168.2L572.7,168.8L569.6,171.3L565.8,170.7L562,169.4L557.6,170.7L553.3,173.8L550.1,178.2L547,183.2L545.7,187.6L545.1,192.6L545.7,197L543.2,198.9L538.8,200.2L535.1,201.4Z"/>
<path fill="#115aa2" d="M545.7,197L545.1,192.6L545.7,187.6L547,183.2L550.1,178.2L553.3,173.8L557.6,170.7L562,169.4L565.8,170.7L568.3,173.8L568.3,177.6L565.2,180.1L562.7,183.2L559.5,186.4L557,190.1L557,194.5L560.2,196.4L558.3,200.2L555.8,204.6L552.6,207.7L550.1,208.3L548.2,204.6L546.4,200.8Z"/>
<path fill="#2474b7" d="M568.3,173.8L569.6,171.3L572.7,168.8L575.8,168.2L579,169.4L579,172.6L581.5,177L583.4,181.4L585.9,185.7L587.8,188.3L584,192L579,194.5L572.7,195.4L568.3,193.3L565.8,190.1L567.1,186.4L570.2,183.2L572.1,180.7L569.6,179.5L568.3,177.6Z"/>
<path fill="#a3cce3" d="M572.7,198.3L576.5,197.7L581.5,197.4L580.9,200.8L582.1,202.7L576.5,202.4L573.3,200.8Z"/>
<path fill="#dbe9f6" d="M568.3,203.9L571.5,203.3L573.3,201.4L576.5,202.7L582.1,202.9L583.4,206.5L580.2,207.5L575.2,206.5L570.2,206.5Z"/>
<path fill="#4291c6" d="M568.9,207.7L575.2,206.7L580.2,207.7L579,210.8L576.5,213.4L572.7,211.5L569.6,210.2Z"/>
<path fill="#4291c6" d="M566.4,210.2L569.6,210.2L572.7,211.7L568.3,212.1Z"/>
<path fill="#a3cce3" d="M576.5,213.4L579,210.8L580.2,207.7L583.4,206.7L589,208.3L592.8,212.1L595.9,215.9L592.8,217.1L593.4,220.9L587.8,220.9L580.2,220.3L575.2,219.6L575.8,216.5Z"/>
<path fill="#08306b" d="M520,223.4L525,222.8L526.3,222.1L530,225.9L533.8,227.2L538.8,229L537.6,233.4L535.7,237.2L536.9,242.8L520,242.8Z"/>
<path fill="#08306b" d="M534.4,218.4L535.7,214.6L540.7,212.1L543.8,210.8L547,212.7L551.4,212.7L553.9,214L554.5,220.3L557,223.4L553.3,225.3L550.1,228.4L552,231.5L547,232.8L541.3,232.2L538.8,229L533.8,227.2L535.1,222.8Z"/>
<path fill="#0a4084" d="M553.9,214L557.6,212.1L563.3,211.5L566.4,210.8L568.3,212.1L572.7,211.7L576.5,213.4L575.8,216.5L575.2,219.6L577.1,223.4L575.2,226.5L570.2,227.2L565.8,226.5L561.4,225.3L557,223.4L554.5,220.3Z"/>
<path fill="#2474b7" d="M538.2,205.2L540.7,203.3L543.2,204.6L542.6,209L540.1,210.8L538.8,209Z"/>
<path fill="#2474b7" d="M544.5,208.3L547.6,207.7L547,210.2L545.1,210.5Z"/>
<path fill="#0d4e94" d="M529.4,218.4L532.5,216.5L535.7,215L534.4,218.4L535.1,222.8L531.9,221.5Z"/>
<path fill="#0d4e94" d="M526.3,222.1L529.4,220.9L531.9,221.5L535.1,222.8L533.8,226.5L530,225.9Z"/>
<path fill="#0d4e94" d="M575.2,226.5L577.1,223.4L575.2,219.6L580.2,220.3L587.8,220.9L593.4,220.9L595.9,217.7L600.3,219L605.3,221.5L610.4,224.6L616.6,227.2L616.6,231.5L613.5,234.1L607.8,235.3L606.6,237.8L604.1,240.3L602.8,237.2L600.3,235.3L595.9,236.6L592.2,237.8L590.9,235.3L589.6,231.5L585.3,230.3L580.2,229.7L576.5,230.9L574,228.4Z"/>
<path fill="#fff" d="M606.6,236.6L611.6,234.7L614.7,235.3L612.9,238.5L609.1,239.7Z"/>
<path fill="#fff" d="M471,292L474,291L474,293Z"/>
<path fill="#fff" d="M476,293L479,292L479,294Z"/>
<path fill="#fff" d="M481,292L484,291L483,294Z"/>
<path fill="#fff" d="M449,330L451,329L451,331Z"/>
<path fill="#fff" d="M452,334L454,333L454,335Z"/>
<path fill="#fff" d="M446,262L448,261L448,263Z"/>
<path fill="#fff" d="M451,263L453,262L453,264Z"/>
<path fill="#fff" d="M597,142L603,141L606,142L600,143Z"/>
<path fill="#fff" d="M610,142L618,141L624,142L615,143Z"/>
<path fill="#fff" d="M626,141L630,141L628,142Z"/>
<path fill="#08306b" d="M506,200.6L509.1,199.8L511.8,200.2L511.1,201.8L514.6,202.5L514.2,204.5L512.6,206.1L514.2,207.6L516.2,209.6L517.7,212.4L519.3,215.1L520.5,217.1L522.8,217.5L522.4,219.8L520.9,221.4L518.5,222.5L515.4,222.9L513,223.3L510.7,223.7L508.3,224.5L506.4,225.3L506.7,223.7L509.1,222.2L511.5,221L507.5,220.2L507.1,219.4L509.9,218.2L511.5,216.3L510.7,213.5L509.1,212L508.3,210L506.7,208.4L506,206.1L505.6,203.7Z"/>
<path fill="#08306b" d="M499.3,210.8L501.6,209.6L504.4,210L505.6,211.6L504.4,213.1L501.6,213.1L499.7,212.4Z"/>
<path fill="#1967ad" d="M495.8,213.5L499.3,212.4L501.6,213.1L504.4,213.1L504.8,215.1L504,217.5L501.6,219L498.5,219.8L495.8,220.6L494.2,219.8L495.4,217.5L495,215.1Z"/>
<path fill="#08306b" d="M502.8,201L504.5,200.2L504.8,201.8L503.5,202.4Z"/>
<path fill="#fff" d="M515.2,194.3L516.5,194.1L516.8,195.3L515.4,195.5Z"/>
<path fill="#08306b" d="M507.9,231.2L511.4,230.2L514.8,229.4L515.8,227.2L519.5,227.9L521.6,226.3L524.2,223.6L527.1,221.6L531,225.5L534.9,225.5L538.8,227.9L540.4,231.8L538,234.1L536.5,237.7L538.4,241.7L537.3,245.6L531.8,247.2L527.1,248.7L522.4,247.9L516.9,246.4L515.3,240.1L514.5,234.6L510.6,233Z"/>
<path fill="#08306b" d="M496.5,247.2L500.4,245.6L508.2,246.4L516.9,246.4L522.4,247.9L527.1,248.7L524.7,252.6L520.8,255.8L519.2,261.3L516.9,265.2L511.4,267.5L505.1,268L503.5,266.8L500.4,266L501.2,260.5L502,255L502,251.1L497.3,250.3Z"/>
<path fill="#3282be" d="M495.7,251.9L497.3,250.3L502,251.1L502,255L501.2,260.5L500.4,266L496.5,265.2L494.9,259.7Z"/>
<path fill="#08306b" d="M525.5,257L529.4,256.1L528.9,257.7Z"/>
<path fill="#c3daee" d="M535.7,234.1L540.4,233.4L543.5,234.1L542.7,237.3L538.8,238.1L536.2,237.3Z"/>
<path fill="#08306b" d="M536,236.1L540.7,235.3L544.6,234.5L550.1,234.5L552.9,235.5L552.9,237.3L551.7,238.1L550.5,239.6L551.3,241.2L552.9,243.2L554.8,245.5L556.8,247.9L559.1,250.2L561.9,252.2L565.4,254.9L566.7,256.5L565.8,257.1L563.1,255.7L562.3,257.7L563.1,259.6L562.3,261.6L560.7,262.8L559.9,260.4L559.5,257.7L557.2,254.9L554.8,252.6L552.1,250.2L549.3,247.1L547,244L545,242.4L542.3,242.8L539.1,243.6L536,244.7L532.9,243.2L533.6,237.7Z"/>
<path fill="#08306b" d="M551.7,263.2L555.2,262.8L558.7,262L559.5,263.2L558.4,266.7L555.2,265.5L552.5,264.4Z"/>
<path fill="#08306b" d="M540.3,254.2L542.7,253.4L543.8,254.9L543.5,258.9L541.9,260.4L540.3,259.3Z"/>
<path fill="#08306b" d="M541.1,248.3L542.7,247.9L543.2,250.6L541.9,252.2L541.1,250.6Z"/>
<path fill="#2474b7" d="M549.3,225.5L551.7,224L555.6,223.6L559.5,224.7L563.1,226.3L563.5,227.9L560.3,229.1L556.4,229.5L552.9,228.7L550.5,227.5Z"/>
<path fill="#60a6d2" d="M561.1,229.8L563.5,228.3L567.4,227.6L571.3,227.9L573.6,228.7L572.9,230.2L568.9,230.8L565,231.8L562.3,231.8Z"/>
<path fill="#2474b7" d="M551.3,231.4L552.9,230.2L556.4,229.7L560.3,229.5L561.1,229.8L562.3,231.8L561.1,233.8L558.7,234.9L555.6,235.7L552.9,235.5L550.1,234.5L544.6,234.5L544.2,233.8L549.3,233Z"/>
<path fill="#a3cce3" d="M559.9,234.9L561.1,233.8L562.3,232L565,231.8L568.9,231L572.9,230.5L574.4,231.4L573.3,233.8L571.7,236.1L568.9,237.3L565,237.7L561.9,237.3L560.3,236.1Z"/>
<path fill="#a3cce3" d="M552.9,237.3L555.6,236.1L558.7,235.3L559.5,236.5L557.6,238.1L554.8,238.9L553.3,238.6Z"/>
<path fill="#60a6d2" d="M554.8,238.9L557.6,238.1L559.5,236.5L560.3,236.1L561.9,237.3L565,237.7L567,238.1L567.4,240.4L566.2,240.8L562.7,240L559.5,240.4L558.7,242L560.3,244L563.1,246.3L566.2,248.3L567.4,249.5L565.8,249.1L562.7,247.1L559.5,245.1L557.2,242.8L556.5,240.8L555.5,240.2Z"/>
<path fill="#60a6d2" d="M559.5,240.4L562.7,240L566.2,240.8L567.4,242.4L567,244.4L567.8,246.3L566.2,247.9L563.1,246.3L560.3,244L558.7,242Z"/>
<path fill="#4291c6" d="M567,238.1L568.9,237.3L571.7,236.3L572.9,237.7L574.4,239.6L576,241.6L575.6,243.6L576.8,245.5L576,247.9L573.6,249.1L572.9,247.9L570.9,247.1L569.7,245.5L567.8,246.3L567,244.4L567.4,242.4L567.4,240.4Z"/>
<path fill="#4291c6" d="M566.2,248.3L567.8,246.5L569.7,245.7L570.5,247.1L569.3,249.1L568,249.6Z"/>
<path fill="#4291c6" d="M570.9,247.3L572.9,247.9L573.5,249.1L572.5,250.1L570.9,249.5Z"/>
<path fill="#c3daee" d="M568.2,249.6L569.3,249.1L570.9,249.6L571.7,251.4L572.1,253.8L570.9,255.7L569.3,255.3L568.5,253Z"/>
<path fill="#e4e4e4" d="M572.1,251.4L573.6,250.1L576,249.8L577.2,251.2L576.4,253L573.6,253.4L572.1,253.4Z"/>
<path fill="#3282be" d="M571.7,236.1L573.3,233.8L574.4,231.6L577.6,231.4L582.3,231.8L585.4,231L587.8,232.6L589.3,234.9L590.1,237.7L592.5,238.9L592.9,241.2L590.9,243.2L590.1,244.7L586.2,245.1L582.3,245.5L578.7,244.7L576.8,244L576,241.6L574.4,239.6L572.9,237.7Z"/>
<path fill="#85bcdc" d="M585.4,231L587.8,230.6L590.1,232.2L592.1,234.5L592.9,236.9L591.7,238.5L590.1,237.7L589.3,234.9L587.8,232.6Z"/>
<path fill="#85bcdc" d="M576.8,245.5L578.7,244.7L582.3,245.5L586.2,245.1L589.7,244.7L590.1,246.3L589.3,248.7L588.2,250.6L585.4,251.4L582.3,252.2L578.7,252.2L577.2,251.2L576,249.8L576.2,247.9Z"/>
<path fill="#1967ad" d="M570.9,255.9L572.1,253.8L573.6,253.5L576.4,253.1L578.7,252.4L582.3,252.4L585.4,251.6L587,252.2L586.2,253.4L583.1,253.8L579.9,254.2L578.7,255.3L579.9,256.5L578.4,257.3L579.5,259.3L581.1,261.2L582.3,262.8L579.9,262.4L578,260.8L576.8,262L578.7,263.2L579.5,265.1L578.4,267.1L575.6,266.3L574.8,263.6L574.4,261.6L572.5,258.9L571.3,257.3Z"/>
<path fill="#1967ad" d="M581.1,271L584.6,271L588.2,271.8L587.4,272.6L583.5,272.4Z"/>
<path fill="#08346f" d="M586.2,251.4L588.2,250.9L590.9,251.4L592.5,252.7L590.1,253.4L588.2,254.3L587,253.4Z"/>
<path fill="#08346f" d="M588.2,251.9L592.2,250.8L596.1,252.6L600.8,251.4L607.1,250.3L613.3,250.8L621.2,252.6L627.5,253.4L631.4,255L632.9,258.1L634.5,262.8L629,265.2L621.2,266L614.9,266.8L611.8,268.3L607.1,267.5L602.4,269.1L597.6,268.3L592.9,267.5L589.8,264.4L588.2,260.5L589.8,257.4L588.2,255Z"/>
<path fill="#60a6d2" d="M603.9,271.8L607.8,270.7L608.6,272.3L605.5,273.8Z"/>
<path fill="#4291c6" d="M579,169.4L580.2,167.5L585.3,168.8L592.8,170.7L599.7,172.6L604.1,175.1L603.5,177.6L599.1,178.8L594,178.2L590.3,177L587.8,176.3L591.5,179.5L594,183.2L598.4,185.1L601.6,182.6L605.3,180.7L603.5,178.8L607.8,177.6L610.4,175.7L607.8,173.2L610.4,171.3L614.7,172.6L615.4,175.1L619.1,173.8L624.2,171.9L629.2,170.7L635.5,171.3L640.5,172.6L642.4,170.1L636.7,166.9L648,168.8L650.4,166.9L653.5,160.6L659.8,159L661.8,162.2L663.3,167.6L665.3,173.1L667.6,177.1L671.1,176.7L670.5,171.6L668.4,166.9L666.4,162.6L670,161.4L674.7,164.5L678.6,168.4L679.9,167.3L676.3,163.3L673.9,159.8L681.8,158.2L683.3,155.1L695,152L707.5,149.5L720,150L727.5,152.5L731.2,155L725,159.5L735,157.5L750,158.8L760,158L770,160L780,163.8L790,160L800,161.2L812.5,162.5L825,165L837.5,167L850,168.8L856,169.2L870.5,167.5L880.5,169.5L888,173.8L895.5,180L903,185L909.2,188L903,190L898,194.5L890.5,195.5L885.5,196.2L886.8,201.2L893,205L896.8,210L895.5,221.2L890.5,216.2L884.2,208.8L879.2,202.5L878,196.2L879.2,191.2L875.5,188.8L874.2,192.5L864.2,191.2L863,198L850.5,198L839.2,199.5L835.5,210L843,213.8L848.9,214.4L853.9,218.8L858.9,225.1L861.4,232.6L860.8,240.1L858.3,246.4L853.9,247.6L850.7,246.4L848.2,242L850.7,239.5L849.5,232L845.1,230.7L841.3,232L835.1,227.6L827.5,225.1L820,219.4L816.8,217.5L806.8,216.2L805,225L793,226.2L780.5,226.2L768,225L790,227.5L775,226.2L760,225L755,221.2L745,223.8L735,225.5L731.2,228.8L730,227.5L720,223.8L710,220L700,212.5L690,213.8L677.5,210L663.8,213.8L662.5,221.2L653.8,223.8L641.2,222.5L633.8,226.2L635,232.5L637.5,238.8L640,242.5L643.8,247.5L646.2,255L640,252.5L631.2,250L625,247.5L617.5,243.8L611.2,242L612.5,238.8L615.5,236.2L617,231.2L616.2,226.2L610.4,224.6L605.3,221.5L600.3,219L595.9,217.7L593.4,220.9L592.8,217.1L595.9,215.9L592.8,212.1L589,208.3L583.4,206.5L582.1,202.7L580.9,200.8L581.5,197.4L585.3,195.2L584,192L587.8,188.3L585.9,185.7L583.4,181.4L581.5,177L579,172.6Z"/>
<path fill="#0a4084" d="M731.2,228.8L735,230L742.5,240L755,245L770,247.5L785,251.2L797.5,247.5L800,241.2L815,235L803.8,231.2L802.5,226.2L807.5,216.2L818.8,217.5L816.8,217.5L820,219.4L827.5,225.1L835.1,227.6L841.3,232L845.1,230.7L849.5,232L850.7,239.5L848.2,242L850.7,246.4L849.5,248.3L847,251.4L843.2,253.9L839.5,257.1L835.1,258.9L832.5,255.2L829.4,253.9L827.5,258.3L823.8,260.2L827.5,262.7L830.7,265.8L836.3,264L838.8,265.8L835.1,269L833.8,272.7L836.9,276.5L841.3,280.3L844.5,285.3L846.4,290.3L846.5,290L845.9,295L843.4,300L840.3,305.1L836.5,308.8L832.7,310.7L827.7,313.2L822.7,315.1L820.2,317L818.9,315.7L813.9,314.5L810.2,312L806.4,309.5L802.6,310.7L798.2,311.3L794.5,313.2L790.7,313.2L787.6,307.6L785.7,302.5L784.4,296.9L781.3,295L775,297.5L765,298.8L760,297.5L750,296.2L735,290L728.8,283.8L730,278.8L727.5,273.8L722.5,270L717.5,266.2L713.8,265L711.2,260L707.5,256.2L715,253.8L722.5,250L720,247.5L723.8,241.2L725,235Z"/>
<path fill="#4f9bcf" d="M735,225.5L745,223.8L755,221.2L760,225L775,226.2L790,227.5L800,225L802.5,226.2L803.8,231.2L815,235L800,241.2L797.5,247.5L785,251.2L770,247.5L755,245L742.5,240L735,230Z"/>
<path fill="#4291c6" d="M621.2,162.5L623.8,156.2L632.5,152.5L645,150.5L643.8,153L635,155L628.8,158.8L631.2,163.8L635,166.2L627.5,166.2Z"/>
<path fill="#4291c6" d="M616.6,170.1L619.8,169.4L620.4,171.1L617.9,171.6Z"/>
<path fill="#4291c6" d="M676.2,141.2L685,140.5L687.5,143L680,143.8Z"/>
<path fill="#4291c6" d="M687.5,143.8L695,144.5L692.5,146.2Z"/>
<path fill="#4291c6" d="M697.5,145L706.2,146.2L705,148Z"/>
<path fill="#4291c6" d="M772.5,153L780,152L787.5,153.8L782.5,155.5L775,155Z"/>
<path fill="#4291c6" d="M792.5,153.8L801.2,154.5L797.5,156Z"/>
<path fill="#4291c6" d="M787.5,158L795,158.8L792.5,160.5Z"/>
<path fill="#4291c6" d="M871.8,164.5L875.5,165L874.2,166Z"/>
<path fill="#1967ad" d="M633.8,226.2L641.2,222.5L653.8,223.8L662.5,221.2L663.8,213.8L677.5,210L690,213.8L700,212.5L710,220L720,223.8L730,227.5L731.2,230L728.9,228.8L727.7,232.5L727.1,238.8L727.1,247L725.2,250.1L716.4,252.9L703.8,257.6L696.3,261.4L686.3,262.7L676.2,257L670,250.1L661.2,252.6L653.6,251.4L647.4,247.6L637.3,241.3L634.8,231.9L633.6,229.4Z"/>
<path fill="#1967ad" d="M659.3,240.7L664.9,239.5L671.2,243.2L676.2,246.4L682.5,247L686.3,250.1L690,253.3L694.4,255.8L697.6,253.9L702.6,252.9L705.7,254.5L702.6,256.4L698.8,257.6L696.3,258.9L695.7,263.9L691.3,263.9L686.3,262L681.3,258.9L676.2,256.4L671.8,253.3L670,249.5L667.5,248.9L664.9,251.4L661.2,252L659.9,246.4Z"/>
<path fill="#f3f8fd" d="M654.3,250.7L656.2,250.1L659.3,253.3L664.9,251.4L667.5,248.9L670,249.5L671.8,253.3L676.2,256.4L681.3,258.9L686.3,262L691.3,263.9L688.2,268.3L684.4,270.8L681.3,271.5L678.1,268.3L675,265.2L670,263.9L666.2,262.7L662.4,263.3L659.3,261.4L658.7,256.4L659.3,253.3L656.2,253.9L654.3,252.6Z"/>
<path fill="#dbe9f6" d="M699.5,249.5L703.8,248.2L708.9,247.6L716.4,247.9L722.7,249.1L722,250.7L716.4,252.9L711.4,256.4L706.4,258.3L698.8,257.6L702.6,256.4L705.7,254.5L702.6,252.9L697.6,253.9Z"/>
<path fill="#c3daee" d="M696.3,258.9L698.8,257.6L706.4,258.3L711.4,257.6L713.3,261.4L713.9,264.5L709.5,265.8L705.7,263.3L702.6,262.7L699.5,265.2L696.3,264.5L695.7,263.9Z"/>
<path fill="#dbe9f6" d="M681.3,271.5L684.4,270.8L688.2,268.3L691.3,263.9L696.3,264.5L699.5,265.2L702.6,262.7L705.7,263.3L709.5,265.8L713.9,264.5L715.1,265.8L710.1,267.1L707,269.6L706.4,274L703.8,277.7L702.6,281.5L697.6,284L696.3,288.4L690,289.6L684.4,287.8L680.6,282.7L681.3,279L680,275.2Z"/>
<path fill="#e4e4e4" d="M633.6,258.3L637.3,259.5L640.5,258.3L643,257.6L646.1,261.4L648.6,264.5L653.6,266.4L658.7,265.2L662.4,263.3L666.2,262.7L670,263.9L675,265.2L678.1,268.3L681.3,271.5L680,275.2L681.3,279L680.6,282.7L684.4,287.8L687.5,294L689.4,297.2L687.5,301.6L681.3,302.2L676.2,300.3L672.5,298.4L670.6,300.3L666.8,299.1L662.4,296.5L657.4,293.4L653,290.3L649.3,288.4L646.7,287.1L644.9,282.7L642.4,278.4L639.2,274L638,269.6L636.1,265.8L634.2,261.4Z"/>
<path fill="#60a6d2" d="M623.5,247L628.5,247L633.6,249.5L636.1,250.7L634.8,252.6L631.1,252L626.7,250.1Z"/>
<path fill="#c3daee" d="M632.3,252.9L635.5,252.9L637.3,256.4L634.8,255.8Z"/>
<path fill="#a3cce3" d="M636.1,251.1L639.8,252L643,251.4L646.1,255.1L646.1,258.3L643,257.6L640.5,258.3L637.3,256.4L635.5,252.9Z"/>
<path fill="#fff" d="M637.3,241.3L640.5,236.9L645.5,235.1L649.9,235.7L650.5,238.8L646.1,240.7L645.5,243.2L648,246.4L651.8,249.5L656.2,250.7L659.3,253.3L658.7,256.4L659.3,261.4L658.7,265.2L653.6,266.4L648.6,264.5L646.1,261.4L646.7,257L645.5,253.9L642.4,250.1L639.2,246.4Z"/>
<path fill="#2474b7" d="M613.6,291.5L618,289L619.2,284L623,282.1L628.6,283.3L634.9,287.7L641.2,291.5L645.6,291.5L647.5,289L648.7,292.1L652.5,297.1L655.6,302.2L658.1,305.9L661.3,309.1L665.6,310.3L669.4,311.6L670.7,314.7L670,319.1L661.9,323.5L655,325.4L649.3,327.9L645.6,327.3L637.4,328.5L634.3,323.5L629.9,317.2L626.1,312.2L621.1,303.4L616.7,296.5Z"/>
<path fill="#60a6d2" d="M637.4,328.5L645.6,327.3L649.3,327.9L655,325.4L661.9,323.5L664.8,329.8L660,334.8L652.5,337.9L645.6,340.4L639.9,342.3L638,336Z"/>
<path fill="#c3daee" d="M670.7,314.7L669.4,311.6L670.7,308.4L671.3,305.9L674.4,307.8L678.8,310.3L682.6,312.8L680.1,317.2L676.9,321L673.8,325.4L668.8,329.1L664.8,329.8L661.9,323.5L670,319.1Z"/>
<path fill="#1967ad" d="M661.3,309.1L665.6,307.8L669.4,305.3L671.3,301.5L671.9,305.3L670.7,308.4L669.4,311.6L665.6,310.3Z"/>
<path fill="#60a6d2" d="M656.9,301.2L658.4,300.7L658.7,304L657.2,304.4Z"/>
<path fill="#dbe9f6" d="M623,282.1L626.1,277.1L629.3,270.8L629.9,265.8L636.2,266.4L639.3,267.6L639.9,273.9L644.3,279.6L646.8,284L647.5,287.7L645.6,291.5L641.2,291.5L634.9,287.7L628.6,283.3Z"/>
<path fill="#f3f8fd" d="M646.8,288.4L648.7,287.7L649.7,290.2L647.7,291.1L645.9,291.1Z"/>
<path fill="#e4e4e4" d="M614.2,269.5L621.1,267.6L629.3,265.8L629.9,265.8L629.3,270.8L626.1,277.1L623,282.1L621.7,278.9L618.6,280.8L614.8,277.7L615.1,273.9Z"/>
<path fill="#1967ad" d="M613.6,291.5L612.9,286.5L614.2,282.1L618.6,280.8L621.7,278.9L623,282.1L619.2,284L618,289Z"/>
<path fill="#1967ad" d="M611.7,282.7L613.6,280.8L614.2,282.7L612.9,286.5L613.3,290.9L612.1,287.1Z"/>
<path fill="#60a6d2" d="M612.9,275.2L614.8,273.9L615.1,277.1L613.6,278.9Z"/>
<path fill="#08306b" d="M717.5,282.5L725,280L727.5,273.8L730,278.8L728.8,283.8L735,290L750,296.2L760,297.5L760,300L765,298.8L775,297.5L782.5,295L783.8,301.2L780,305L775,310L772.5,313.8L770,306.2L766.2,308.8L762.5,313.8L758.8,316.2L755,321.2L750,327.5L742.5,332.5L741.2,342.5L738.8,350L735,357.5L731.2,353.8L727.5,345L722.5,332.5L718.8,320L717.5,313.8L711.2,316.2L707.5,311.2L709.5,308.8L704.5,305L705.5,297.5L710,290L713.8,283.8Z"/>
<path fill="#08306b" d="M716.4,274L720.8,272.7L721.4,270.2L725.2,269.2L730.2,271.5L730.8,275.8L726.4,279L722.7,280.2L717.6,279L715.1,275.8Z"/>
<path fill="#0a4084" d="M684.4,287.8L690,289.6L696.3,288.4L697.6,284L702.6,281.5L703.8,277.7L706.4,274L707,269.6L710.1,267.1L715.1,265.8L717.6,268.3L721.4,270.2L720.8,272.7L716.4,274L715.1,275.8L717.6,279L715.8,282.7L713.9,286.5L711.4,291.5L708.9,295.3L708.2,300.3L710.1,305.3L706.4,306.6L703.8,303.5L702,302.2L690,302.8L687.5,301.6L689.4,297.2L687.5,294Z"/>
<path fill="#fff" d="M724.9,270.8L727.7,269.9L729.6,272.1L728.3,275L725.8,274.2Z"/>
<path fill="#08306b" d="M767.5,297.1L780.8,294.3L781.6,299L778.4,303.7L775.3,308.4L772.9,313.1L770.6,310L771.4,303.7L769,299.8Z"/>
<path fill="#e4e4e4" d="M767.5,292.7L773.7,290.9L778.4,291.5L780.8,294.3L776.9,295.1L771.4,296.7L767.8,297.1Z"/>
<path fill="#3282be" d="M742.5,352.5L746.2,356.2L747.5,361.2L743.8,364.5L741.2,360Z"/>
<path fill="#60a6d2" d="M735,290L738.8,288L750,293.8L760,296.2L760,298.8L750,297.5L740,294.5Z"/>
<path fill="#f3f8fd" d="M761.2,295L767.5,293.8L768.8,297L762.5,298Z"/>
<path fill="#1967ad" d="M760,301.2L766.2,300L770,306.2L772.5,313.8L767.5,313.8L763.8,313.8L762.5,307.5Z"/>
<path fill="#e4e4e4" d="M839.5,257.1L843.2,253.9L847,251.4L849.5,248.3L850.7,250.2L850.1,254.5L848.2,257.7L850.1,260.8L847.6,262.7L844.5,263.3L842.6,260.2Z"/>
<path fill="#4291c6" d="M848.2,263.3L850.7,261.5L854.5,264L857,268.4L858.3,272.1L855.8,273.4L852.6,274L850.7,270.9L849.5,267.1Z"/>
<path fill="#1967ad" d="M873.3,240.1L877.7,242L882.7,245.1L887.1,246.6L884,248.3L882.7,250.2L879.6,248.9L877.1,250.2L874.6,248.9L875.2,246.4L875.8,243.3Z"/>
<path fill="#1967ad" d="M877.7,253.3L880.2,252.7L882.7,256.4L884.6,260.2L885.3,264L887.1,269L887.8,271.5L884.6,272.7L881.5,273.4L879,275.3L877.7,276.5L875.8,274L872.7,275.3L870.8,277.8L868.3,276.5L865.8,277.1L863.3,279L863.9,275.3L867.1,272.1L871.5,271.5L875.2,270.2L876.5,266.5L877.1,262.7L879,259.6L878.4,255.8Z"/>
<path fill="#1967ad" d="M870.2,278.4L874,276.5L875.2,277.8L871.5,279.6Z"/>
<path fill="#1967ad" d="M863.3,279L865.8,278.4L868.3,280.3L868.9,284L867.1,284.7L864.5,282.2L862.7,280.3Z"/>
<path fill="#4291c6" d="M853.3,212.5L856.4,215.6L861.4,220.7L865.8,224.4L870.2,227.6L868.3,229.5L871.5,234.5L875.2,237L872.7,237.6L869.6,233.8L866.4,228.8L862.7,224.4L858.3,220L854.5,216.3Z"/>
<path fill="#fff" d="M853.3,277.1L855.1,276.9L855,277.9Z"/>
<path fill="#fff" d="M891.3,237L892.8,237.4L892.3,238.6Z"/>
<path fill="#fff" d="M894.9,223.6L896,223.8L895.5,225.1Z"/>
<path fill="#fff" d="M867.7,285.9L868.7,286.2L868.2,287.2Z"/>
<path fill="#fff" d="M867.1,292.8L868.1,293.1L867.6,294.1Z"/>
<path fill="#78b5dc" d="M771.9,314.5L774.4,308.8L776.9,302.5L778.8,297.5L781.3,295L784.4,296.9L785.7,302.5L787.6,307.6L790.7,313.2L793.2,317L790.7,320.1L787.6,322L786.9,325.8L788.2,330.2L790.7,334.5L792.6,340.2L794.5,345.2L793.2,345.8L791.3,341.5L788.8,335.2L786.9,330.8L783.8,332.7L780.7,333.3L778.8,328.9L776.9,323.9L774.4,319.5Z"/>
<path fill="#2474b7" d="M787.6,322L790.7,320.1L793.2,318.9L795.1,322L797,327L800.7,325.8L803.9,324.5L807,327L809.5,331.4L810.8,337.1L807,337.7L803.3,339.6L802,344L799.5,342.1L797.6,340.8L795.7,345.2L794.5,345.2L792.6,340.2L790.7,334.5L788.2,330.2L786.9,325.8Z"/>
<path fill="#e4e4e4" d="M798.2,313.2L801.4,311.3L806.4,310.1L808.9,312L810.8,314.5L813.3,317L810.2,319.5L809.5,322.6L812.7,326.4L816.4,330.2L819.6,334.5L821.5,339.6L822.1,344.6L819.6,348.4L815.2,350.9L812.7,354L810.8,355.3L810.2,351.5L812.7,349.6L815.8,346.5L817.1,342.7L816.4,338.3L815.2,337.7L814.5,334.5L812,330.2L808.9,325.8L805.8,322.6L803.3,319.5L800.7,317Z"/>
<path fill="#dbe9f6" d="M793.2,317L795.1,315.1L798.2,313.2L800.7,317L803.3,319.5L805.8,322.6L808.9,325.8L812,330.2L814.5,334.5L815.2,337.7L812.7,338.3L810.8,337.1L809.5,331.4L807,327L803.9,324.5L800.7,325.8L797,327L795.1,322L793.2,318.9Z"/>
<path fill="#c3daee" d="M803.3,339.6L807,337.7L810.8,337.1L812.7,338.3L816.4,338.3L817.1,342.7L815.8,346.5L812.7,349.6L810.2,349L807,347.7L804.5,345.2L803.3,342.1Z"/>
<path fill="#0a4084" d="M817.7,321.4L819.2,319.9L821.5,319.9L823,321.6L822.5,323.9L820.4,325.4L818.3,324.5Z"/>
<path fill="#0a4084" d="M846.8,305.7L848.4,303.2L850.1,303.8L850.3,308.8L849.3,312.6L847.8,313.2L846.5,310.1Z"/>
<path fill="#2474b7" d="M850.3,325.8L852.8,324.1L856,325.1L856.6,330.2L855.3,333.9L856,338.3L857.8,340.2L856.6,343.3L854.1,342.7L852.8,338.3L850.3,335.2L849.7,330.8Z"/>
<path fill="#2474b7" d="M856.6,338.3L862.9,338.9L863.5,341.5L860.4,340.8L857.8,340.2Z"/>
<path fill="#2474b7" d="M864.1,343.3L867.3,344.6L867.9,349L866,351.5L864.7,347.7Z"/>
<path fill="#2474b7" d="M857.8,346.5L860.4,345.8L862.2,349L861.6,352.7L859.3,352.1L858.5,349Z"/>
<path fill="#2474b7" d="M845.3,355.9L848.4,351.5L850.3,347.7L851.3,348L849.1,352.7L846.5,356.5Z"/>
<path fill="none" d="M776.3,340.8L776.9,345.2L776,345.2"/>
<path fill="none" d="M775.5,348.4L776,349.6L775.4,349.7"/>
<path fill="none" d="M857.8,342.7L862.9,342.1L863.5,345.2"/>
<path fill="none" d="M861,350.2L864.1,351.5L862.9,353.4"/>
<path fill="#0a4084" d="M784.4,366.3L787.5,365.1L791.9,367.6L796.3,372L800.7,376.4L805.1,380.1L809.5,384.5L813.3,388.3L815.8,391.4L814.5,395.2L813.9,400.8L810.7,401.5L807,398.3L802.6,393.9L798.8,388.9L795.1,383.3L791.3,377L787.5,371.3Z"/>
<path fill="#2474b7" d="M791.9,345L794.1,345L794.4,350L795.7,355L798.2,359.4L802,362.5L798.8,363.8L795.7,360L793.2,355.6L792.5,350Z"/>
<path fill="#c3daee" d="M798.8,363.8L802,362.5L805.1,365.7L807,370.1L808.9,375.1L810.1,378.9L807.6,378.2L804.5,375.1L801.3,371.3L799.5,367.6Z"/>
<path fill="#0a4084" d="M813.3,402.7L818.9,403.3L825.2,404.6L831.5,405.2L835.8,407.7L840.2,409L839,410.5L834,409.6L827.7,408L821.4,407.1L815.8,405.8L813.6,404.6Z"/>
<path fill="#0a4084" d="M841.5,409.2L845.3,409L848.4,410L847.8,411.2L842.7,410.9Z"/>
<path fill="#0a4084" d="M849.6,410L855.3,409.6L860.3,409L866.6,408.4L870.4,407.7L869.7,409L864.1,410L857.8,410.9L852.2,411.2Z"/>
<path fill="#0a4084" d="M850.3,413.4L854,414L853.4,415.3L850.5,414.6Z"/>
<path fill="#0a4084" d="M860.3,416.5L863.5,413.4L867.8,410.9L869.7,411.5L866.6,414L862.8,417.1Z"/>
<path fill="#0a4084" d="M875.4,377L877.3,375.1L877.9,378.9L876.6,381.4L877.3,385.1L875.6,385.1L875.1,381.4Z"/>
<path fill="#0a4084" d="M870.4,393.3L873.5,392.7L874.1,394.5L871,395.2Z"/>
<path fill="#0a4084" d="M876.6,392.7L880.4,392L884.2,393.3L883.5,394.9L879.1,394.2Z"/>
<path fill="#0a4084" d="M892.9,400.8L894.4,400.2L893.9,404L892.7,404.6Z"/>
<path fill="#0a4084" d="M790.7,378.2L791.9,380.1L791,380.7Z"/>
<path fill="#0a4084" d="M794.4,386.4L796.1,388.9L795.1,389.2Z"/>
<path fill="#0a4084" d="M786.3,373.8L787.8,375.1L786.9,375.7Z"/>
<path fill="#0a4084" d="M817.6,391.4L819.9,391.2L820.2,392.9L818.3,393.3Z"/>
<path fill="#0a4084" d="M809.5,383.3L811.1,382.9L811.4,384.5Z"/>
<path fill="#0a4084" d="M823.3,380.7L824.5,377.6L827.1,379.5L831.5,379.5L836.5,377L839.6,373.2L841.5,370.1L845.9,370.1L848.4,373.2L848.4,377.6L850.3,380.1L847.1,383.3L845.3,387.6L844,392.7L842.1,395.2L838.4,394.5L834,393.3L829.6,392.7L826.4,389.5L824.5,385.8Z"/>
<path fill="#c3daee" d="M827.1,379.5L829.6,375.1L834,371.3L838.4,367.6L842.1,363.8L844.6,361.3L848.4,363.8L851.5,366.3L847.8,368.2L845.9,370.1L841.5,370.1L839.6,373.2L836.5,377L831.5,379.5Z"/>
<path fill="#0a4084" d="M854,381.4L856.5,380.1L861.6,380.7L866.6,379.5L868.5,378.2L867.8,380.7L863.5,382.6L858.4,383.3L855.9,385.1L858.4,387.6L862.2,386.4L862.8,388.3L859.7,389.5L860.9,392.7L862.2,396.4L861.6,400.2L859.1,399.6L858.4,395.8L856.5,392L854.7,393.9L854,400.2L852.2,400.2L851.8,395.2L851.5,390.2L853.4,385.8Z"/>
<path fill="#2474b7" d="M858.4,359.4L860.9,356.9L864.7,356.3L867.8,353.8L870.4,355.6L871.6,359.4L869.7,363.2L867.8,364.4L866.6,361.9L863.5,360.7L860.3,361.3Z"/>
<path fill="#0a4084" d="M884.2,385.1L887.9,383.9L891.7,385.1L893.6,387.6L890.4,390.2L892.9,392L896.7,391.4L900.5,388.9L908,387.6L912.5,391.2L911.8,410L904.2,408L905.5,403.8L903.6,400.2L899.2,397.1L894.2,393.9L890.4,392L887.3,388.9Z"/>
<path fill="#85bcdc" d="M912.3,391.9L917.3,393.2L923,396.9L926.1,400.7L930.5,403.2L928.6,405.1L931.8,408.9L934.9,412L938,413.9L936.8,416.4L932.4,415.1L928,413.3L923,411.4L918.6,412L914.8,412.6L911.7,411.4Z"/>
<path fill="#85bcdc" d="M931.8,400.7L936.2,400.1L939.9,398.8L942.4,396.3L944.3,396.9L943.1,400.1L939.9,402.6L936.2,403.2L933,402.3Z"/>
<path fill="#85bcdc" d="M941.2,392.5L944.3,394.4L945.9,396.9L944.9,397.6L942.7,395.1Z"/>
<path fill="#c3daee" d="M950,400.7L951.8,402L953.1,404.5L951.8,405.1L950.2,402.6Z"/>
<path fill="#c3daee" d="M954.4,404.5L956.9,405.7L957.5,407L955,406.4Z"/>
<path fill="#c3daee" d="M954.4,407.6L957.5,409.5L958.7,410.7L956.2,410.1Z"/>
<path fill="#c3daee" d="M960,407L963.1,408.2L963.8,409.5L960.6,408.9Z"/>
<path fill="#c3daee" d="M962.5,412.6L965.6,412.9L966.3,414.1L963.1,414.5Z"/>
<path fill="#c3daee" d="M965.6,409.5L967.3,411.4L967.5,413.3L966.3,412.4Z"/>
<path fill="#c3daee" d="M966.9,415.8L969.4,416.4L969.8,417.4L967.5,417.1Z"/>
<path fill="#fff" d="M978.8,429.6L980.3,430.8L981.3,435.2L980.1,435.2L979.5,432.1Z"/>
<path fill="#fff" d="M982.3,438.4L983.1,439L982.6,439.5Z"/>
<path fill="#fff" d="M983.2,442.1L984.1,442.7L983.5,443.2Z"/>
<path fill="#fff" d="M968.2,447.8L970,447.1L973.8,450.9L975.7,453.4L974.4,454.3L971.3,451.5L968.8,449.3Z"/>
<path fill="#fff" d="M1006.4,439L1008.3,437.7L1010.8,438.4L1010.4,440.2L1008.3,441.5L1006.7,440.9Z"/>
<path fill="#fff" d="M1011.5,435.2L1015.2,434L1015.8,434.7L1012.1,436.5Z"/>
<path fill="#fff" d="M928.4,389L929.4,389.4L928.8,390Z"/>
<path fill="#fff" d="M937.8,390.7L938.7,391L938,391.5Z"/>
<path fill="#fff" d="M943.4,411.6L944.3,412L943.7,412.6Z"/>
<path fill="#fff" d="M944.4,419.2L945.2,419.5L944.7,420.2Z"/>
<path fill="#fff" d="M976.3,449L977.8,450.3L978.3,451.5L977.3,451Z"/>
<path fill="#115aa2" d="M879.2,421.2L885.5,418.8L893,420.5L898,422.5L895.5,426.2L894.2,430L900.5,433.8L905,437.5L908,433.8L910.5,427.5L913,420L915,417L917.5,422.5L919.2,430L921.8,437.5L925.5,445L929.2,451.2L931.8,458.8L935,463.8L933.5,470L930.5,477.5L925.5,485L919.2,492.5L913,498.8L908,503.8L901.8,506.2L896.8,505L893,503.8L888,504.5L884.2,500L884.2,493.8L885,487.5L880.5,493.8L878,490L874.2,485L868,482.5L860.5,483.8L850.5,486.2L843,490L834.2,492.5L826.8,494.5L823,491.2L826.8,483.8L827.5,475L826,466.2L828,458.8L831.8,452.5L840.5,448.8L849.2,446.2L854.2,441.2L860.5,435L868,430L873,426.2Z"/>
<path fill="#115aa2" d="M888.5,513.8L893,512.5L898,513L895.5,517.5L890.5,521.2L887.5,518.8Z"/>
<path fill="#f3f8fd" d="M974.2,493L976.8,492L977.5,498.8L983,502L980.5,505L975.5,507.5L971.8,511.2L968,510L970,505L974.2,501.2Z"/>
<path fill="#f3f8fd" d="M966.8,512.5L963,511.2L956.8,516.2L948,521.2L939.2,525L933,528.8L934.2,532L943,528.8L953,523.8L960.5,518.8L965.5,515Z"/>
<path fill="#0a4084" d="M493.3,282.5L495.7,277.7L503.5,273L505.1,269.9L513.7,271.5L515.3,275.4L513.7,280.1L510.6,282.5L508.2,285.6L503.5,288.7L498,290.3L495.7,295L485.5,295.3L489.4,290.3L492.5,286.4Z"/>
<path fill="#e4e4e4" d="M505.1,269.9L513.7,271.5L515.3,275.4L513.7,280.1L510.6,282.5L508.2,285.6L503.5,288.7L498,290.3L495.7,295L495.7,296.6L501.5,304.1L530.2,323.2L534.9,321.7L542.7,317L551.4,309.1L547.5,306L545.1,300.5L545.9,293.4L545.1,287.9L542.7,284L539.6,277.7L539.3,273L541.2,266L527.1,266.8L516.1,268.3Z"/>
<path fill="#60a6d2" d="M541.2,266L545.1,265.2L547.5,266.8L546.7,270.7L549,274.6L549.8,278.5L546.7,282.5L545.1,287.9L542.7,284L539.6,277.7L539.3,273Z"/>
<path fill="#e4e4e4" d="M545.1,287.9L546.7,282.5L549.8,278.5L555.3,280.1L561.6,283.2L567.8,286.4L572.5,284.8L574.1,280.9L580.4,279.3L585.4,281.7L586.7,285.6L587,296.6L587.5,315.4L587.5,320.1L563.1,309.1L556.9,311L551.4,309.1L547.5,306L545.1,300.5L545.9,293.4Z"/>
<path fill="#093e81" d="M586.7,284L592.9,284.8L600.8,285.6L607.1,284.8L611.8,285.6L613.3,290.3L612.5,294.2L610.2,292.6L607.8,289.5L607.1,291.9L611.8,299.7L616.5,309.1L618.8,313.8L587.5,313.8L587,296.6Z"/>
<path fill="#e4e4e4" d="M483.3,295.7L495.2,295.7L495.2,299.5L487.7,300.1L486.4,306.4L483.9,310.2L483.3,314.5L473.3,315.2L474.5,310.2L477.6,305.1L480.8,299.5Z"/>
<path fill="#e4e4e4" d="M473.3,315.2L483.3,314.5L483.9,310.2L486.4,306.4L487.7,300.1L495.2,299.5L495.2,296.4L501.5,304.1L503.4,332.7L487.7,334.6L484.5,332.7L480.2,330.9L475.8,331.5L473.9,329L474.5,322.7Z"/>
<path fill="#2474b7" d="M471.4,336.3L474.5,331.9L477.7,330.7L482.1,331.3L486.5,336.3L487.1,340.1L487.7,343.2L483.3,342.6L479.6,342L474.5,343.2L472.7,343.8L472,342L478.3,341.1L480.2,340.1L476.4,339.5L472.3,340.1Z"/>
<path fill="#0d4e94" d="M472.3,340.1L476.4,339.5L480.2,340.1L478.3,341.1L472,342Z"/>
<path fill="#dbe9f6" d="M473.9,343.8L479.6,343.2L480.8,344.5L478.9,347L475.8,346.4Z"/>
<path fill="#dbe9f6" d="M478.9,347L480.8,344.5L487.7,343.8L492.1,344.5L494.9,344.5L495.9,350.1L496.1,355.1L494.9,358.9L492.7,357L490.2,356.4L489,353.3L485.8,351.4L482.7,352L480.8,350.1Z"/>
<path fill="#e4e4e4" d="M482.7,353.9L485.2,351.6L488.4,352.9L489.4,356.4L487.1,359.5L484.3,358.9L482.7,356.4Z"/>
<path fill="#f3f8fd" d="M487.1,359.9L489.6,357L492.7,357.4L494.9,359.5L497.1,363.3L498.4,368.3L495.3,367.1L491.5,364.5L489,362Z"/>
<path fill="#e4e4e4" d="M494.9,358.9L496.1,355.1L496.5,350.7L499.6,350.1L504,350.1L507.2,352L510.3,352.6L510.9,357.6L510.7,363.3L511.2,366.4L504.7,367.1L498.4,368.3L497.1,363.3Z"/>
<path fill="#85bcdc" d="M501.5,304.1L508.2,308.3L530.2,323.2L527.9,322.5L530.8,323.1L530.4,331.9L526.6,334.4L521.6,335.7L516.6,336.3L512.2,338.2L509.1,340.7L505.3,343.2L504,347L503.4,350.1L499.6,350.1L496.5,350.7L495.6,344.5L492.1,344.5L487.7,343.8L487.1,340.1L486.5,336.3L488.4,335.1L494.6,333.8L504,333.2L503.4,320Z"/>
<path fill="#4291c6" d="M504,347L505.3,343.2L509.1,340.7L512.2,338.2L516.6,336.3L519.1,336.9L521.6,340.7L524.7,343.8L525.4,345.7L521.6,347L519.1,348.2L514.7,348.2L510.3,349.5L510.3,352.6L507.2,352L504.7,350.7Z"/>
<path fill="#c3daee" d="M510.7,349.5L514.7,348.6L519.1,348.6L520,352.6L520.4,357.6L521,363.3L517.2,365.2L513.5,367.4L511.2,366.4L510.7,363.3L510.9,357.6L510.4,352.6Z"/>
<path fill="#a3cce3" d="M519.5,348.6L522,348.2L522.5,352.6L523.2,362.7L521,363.3L520.4,357.6Z"/>
<path fill="#60a6d2" d="M522,348.2L525.4,345.7L527.3,344.5L529.1,346.4L528.5,350.1L526.6,354.5L526.3,362.7L523.5,362.7L522.9,353.9Z"/>
<path fill="#3282be" d="M530.2,323.2L534.9,321.7L542.7,317L551.4,309.1L556.9,311L560,315.4L562.4,320L561.1,327.5L559.3,332.5L556.7,337.6L556.1,340.1L552.4,341.3L548.6,340.7L543.6,342L538.5,340.7L534.2,339.5L530.4,340.7L529.1,343.8L527.3,344.5L524.7,343.8L521.6,340.7L519.1,336.9L521.6,335.7L526.6,334.4L530.4,331.9L530.8,323.1L527.9,322.5Z"/>
<path fill="#3282be" d="M527.3,344.5L529.1,343.8L530.4,340.7L534.2,339.5L538.5,340.7L543.6,342L548.6,340.7L552.4,341.3L556.1,340.1L558,342.6L559.3,345.1L557.4,349.5L554.9,354.5L552.4,358.9L548.6,362L545.5,363.3L542.3,368.3L537.9,368.9L534.8,368.3L532.3,364.5L529.8,363.3L526.3,362.7L526.6,354.5L528.5,350.1L529.1,346.4Z"/>
<path fill="#4291c6" d="M560,315.4L556.9,311L563.1,309.1L587.5,320.1L585,318.8L583.8,332.5L581.2,341.2L582.5,348.8L576.2,352.5L570,357.5L562.5,360L559,352L557,346.2L556.2,338.8L560,331.2L561.2,322.5Z"/>
<path fill="#85bcdc" d="M562,359.5L570,357.5L576.2,352.5L582.5,348.8L588.8,353.8L592.5,361.2L596.2,366.2L585,366.2L577.5,368.8L572.5,366.2L567.5,372.5L562.5,372.5L559,365Z"/>
<path fill="#f3f8fd" d="M545.5,363.3L548.6,362L552.4,358.9L554.9,354.5L557.4,349.5L559.3,347L561.1,348.2L559.3,352L561.8,353.9L560.5,357.6L559.9,363.3L561.8,368.3L564.3,373.3L563.6,376.5L556.1,375.8L549.8,375.8L546.7,375.8L546.1,370.8L543.6,368.3Z"/>
<path fill="#f3f8fd" d="M546.1,376.5L550.5,376.5L550.5,379.6L546.1,379.6Z"/>
<path fill="#dbe9f6" d="M546.1,380L550.5,379.6L550.5,376.5L555.5,376.5L556.1,379L559.3,379.6L558.6,383.4L559.3,388.4L556.1,389L554.2,390.3L552.4,394L550.5,394.7L547.3,390.3L544.2,385.9L543.6,384.6Z"/>
<path fill="#e4e4e4" d="M556.1,375.8L563.6,376.5L564.3,373.3L568.7,372.1L569.9,376.5L568.7,382.7L566.8,388.4L564.3,393.4L561.1,396.5L557.4,397.2L554.2,397.2L552.4,394.7L554.2,390.3L556.1,389L559.3,388.4L558.6,383.4L559.3,379.6L556.1,379Z"/>
<path fill="#dbe9f6" d="M587.5,313.8L618.8,313.8L623.8,327.5L620,336.2L616.2,343.8L612.5,351.2L608.8,346.2L606.2,351.2L600,350L596.2,352.5L590,351.2L585,348.8L582.5,348.8L581.2,341.2L583.8,332.5L585,318.8L587.5,320.1Z"/>
<path fill="#e4e4e4" d="M585,348.8L590,351.2L596.2,352.5L600,350L606.2,351.2L608.8,346.2L612.5,351.2L615,358.8L620,366.2L612.5,370L605,371.2L600,368.8L596.2,366.2L592.5,361.2L588.8,353.8L582.5,348.8Z"/>
<path fill="#0d4e94" d="M615,370L622.5,368.8L630,371.2L637.5,368.8L633.8,378.8L635,388.8L630,396.2L623.8,391.2L613.8,385L616.2,377.5Z"/>
<path fill="#3282be" d="M603.8,372.5L607.5,370L615,370L616.2,377.5L613.8,385L605,386.2L603,378.8Z"/>
<path fill="#c3daee" d="M601.2,387.5L605,387L604.5,395L601.2,395Z"/>
<path fill="#4291c6" d="M605,387.5L613.8,385L623.8,391.2L630,396.2L628.8,405L631.2,416.2L625,418.8L616.2,420L610,412.5L603.8,403.8L602,396.2Z"/>
<path fill="#85bcdc" d="M639.2,348.4L643,349.3L649.9,347.5L655.9,346.3L660.6,345.4L661,349.7L659.3,355.7L655.9,363.4L651.6,370.2L646.5,376.6L641.3,381.3L636.2,388.2L635,388.8L633.6,381.3L634.5,371.9L636.2,368.1L641.3,366.8L645.6,365.1L649,361.7L651.6,358.7L649,357.4L644.8,354.8L641.3,352.2L638.8,349.3Z"/>
<path fill="#1967ad" d="M611.4,357.8L613.5,354.8L614.8,351.4L616.5,347.1L618.7,342.8L620.4,339L624.2,337.3L627.6,337.7L631.1,339L633.6,341.6L635.8,344.1L636.6,346.7L638.8,349.3L641.3,352.2L644.8,354.8L649,357.4L651.6,358.7L649,361.7L645.6,365.1L641.3,366.8L636.2,368.1L632.8,369.8L630.2,371.1L627.6,371.9L624.2,370.2L620.8,368.5L618.2,366.8L616.5,363.4L614.8,359.9Z"/>
<path fill="#f3f8fd" d="M620.4,339L621.2,335.1L622.1,331.7L623.4,330L625.9,330L627.2,332.6L630.2,335.1L633.6,339L636.6,342.8L637.9,344.1L636.6,346.7L635.8,344.1L633.6,341.6L631.1,339L627.6,337.7L624.2,337.3Z"/>
<path fill="#60a6d2" d="M636.6,346.7L637.9,344.1L639.5,344.5L639.2,346.7L637.9,348Z"/>
<path fill="#e4e4e4" d="M567.5,372.5L572.5,366.2L577.5,368.8L585,366.2L596.2,366.2L600,368.8L605,371.2L603.8,378.8L605,386.2L601.2,388.8L602,396.2L603.8,403.8L598.8,410L597.5,415L598.8,421.2L596.2,422.5L590,417.5L581.2,418.8L580,406.2L573.8,407.5L567.5,407.5L565,402.5L556.2,400L560,395L565,387.5L567.5,380Z"/>
<path fill="#1967ad" d="M555,402.5L565,402.5L567.5,407.5L573.8,407.5L580,406.2L581.2,418.8L585,418.8L585,422.5L580,425L580,436.2L582.7,438.8L576.4,439.1L567.6,438.6L558.9,437.6L552,437.3L552.6,430L553.8,426.2L558.8,417.5L556.2,408.8Z"/>
<path fill="#1967ad" d="M553,398L555.5,399.5L554.5,402Z"/>
<path fill="#a3cce3" d="M581.2,418.8L590,417.5L596.2,422.5L598.8,421.2L597.5,415L599,409.5L603.8,404L610,412.5L612.5,418.8L610,426.2L605.3,430L602.2,432.5L599,433.8L594,436.9L590.2,440.1L588.4,439.5L583.3,440.1L582.7,438.8L580.2,432.5L580.2,425L584.6,424.4Z"/>
<path fill="#60a6d2" d="M612.2,425L613.8,422.5L613.5,420L616.6,420L617.2,426.3L618.5,431.3L616.6,436.9L615.3,435.1L616,431.9L614.1,428.8Z"/>
<path fill="#60a6d2" d="M616.2,420L625,418.8L631.2,416.2L632,427.5L630.4,432.5L625.4,437.6L620.4,441.3L615.3,446.4L614.7,451.4L616.6,456.4L615.3,460.2L610.3,462.7L608.4,464.5L607.8,467.1L605.9,464.5L605.3,458.9L605.9,455.1L604,453.9L606.5,451.4L609.1,445.1L609.7,438.8L607.2,435.1L602.2,432.5L605.3,430L610.3,427.5L612.2,425L614.1,428.8L616,431.9L615.3,435.1L616.6,436.9L618.5,431.3L617.2,426.3L616.6,420Z"/>
<path fill="#f3f8fd" d="M590.2,441.3L594,436.9L599,433.8L602.2,432.5L607.2,435.1L609.7,438.8L609.1,445.1L606.5,451.4L604,453.9L598.4,453.3L594,446.4Z"/>
<path fill="#dbe9f6" d="M552,437.6L558.9,437.8L567.6,438.8L576.4,439.5L582.7,439.1L585.8,438.8L583.3,440.1L577.1,440.7L576.4,451.4L573.9,456.4L573.9,462.7L573.3,468.3L572,473.3L568.9,474.6L565.8,472.1L563.9,473.3L561.4,470.2L559.5,462.7L558.2,455.1L555.1,446.4L552.6,441.3Z"/>
<path fill="#a3cce3" d="M577.1,440.7L583.3,440.1L588.4,439.5L590.2,441.3L594,446.4L598.4,453.3L592.7,456.4L590.2,461.4L587.1,463.9L584,462.7L581.5,463.9L578.3,465.2L575.8,467.7L573.9,462.7L573.9,456.4L576.4,451.4Z"/>
<path fill="#08306b" d="M563.9,473.3L565.8,472.1L568.9,474.6L572,473.3L573.3,468.3L573.9,462.7L575.8,467.7L578.3,465.2L581.5,463.9L584,462.7L587.1,463.9L590.2,461.4L592.7,456.4L598.4,453.3L604,453.9L605.9,455.1L605.3,458.9L605.9,464.5L607.8,467.1L607.6,469.6L605.3,474L601.5,479L597.1,484L591.5,488.4L585.2,490.9L578.9,491.5L572.7,493L568.9,491.5L567,487.8L567.6,485.3L565.8,480.2Z"/>
<path fill="#60a6d2" d="M592.1,476.5L595.3,474L597.8,475.8L595.9,478.7L593.4,479.6Z"/>
<path fill="#f3f8fd" d="M603,466.4L604.7,465.2L605.9,467.1L605,469.2L603.4,468.9Z"/>
<path fill="#c3daee" d="M637.3,453.9L640.4,445.1L641.7,436.3L649.2,432.5L653.6,426.3L655.5,421.9L657.4,425L658,432.5L655.5,441.3L651.7,451.4L648,460.2L642.9,463.9L638.5,462L637.3,457.6Z"/>
</g></svg>
<div class="abs foot" style="top:663px">Source: Oil Change International's Public Finance for Energy Database</div>
<div class="abs foot" style="top:677.5px;font-size:11.06px">Boston University Institute for Global Sustainability | visualizingenergy.org | CC BY 4.0</div>
<div id="logo" class="abs"><span id="lv">visualizing</span><b id="le">Energy</b></div>
</body></html>
